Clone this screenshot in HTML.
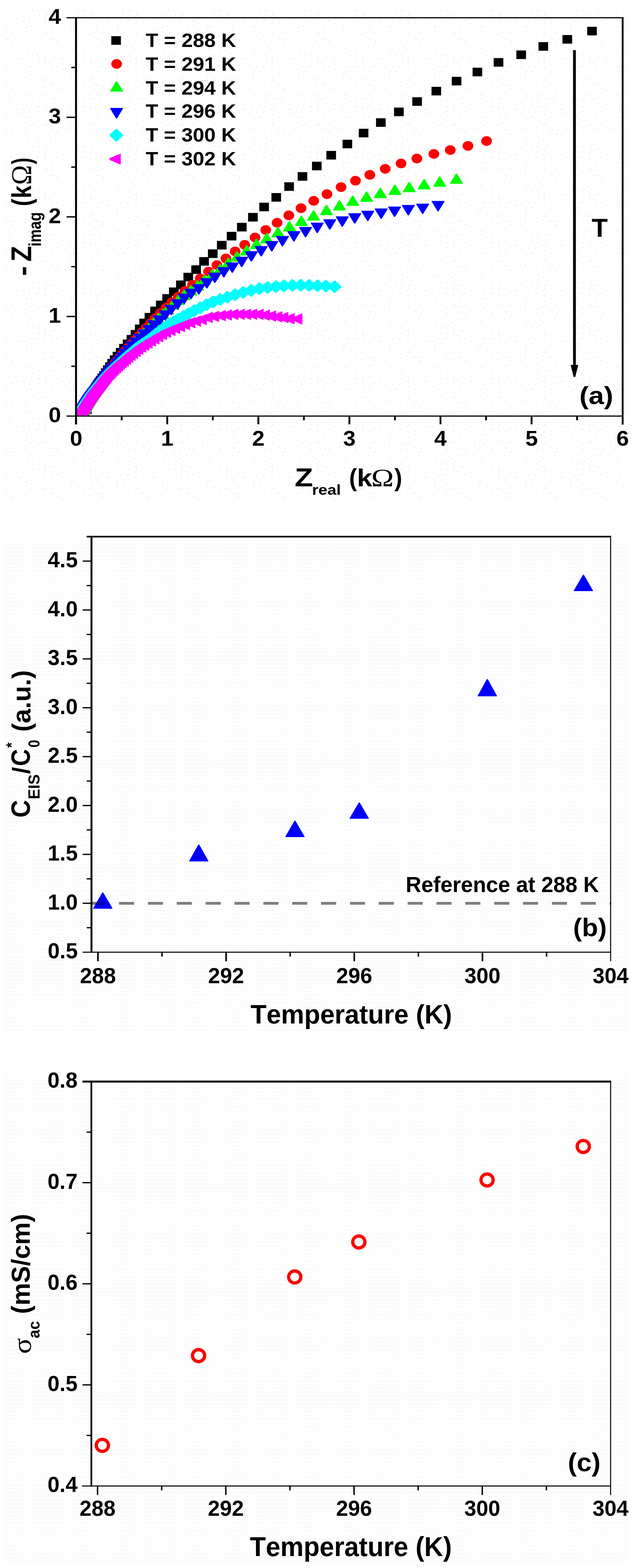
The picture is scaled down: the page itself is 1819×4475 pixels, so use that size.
<!DOCTYPE html>
<html lang="en"><head><meta charset="utf-8"><title>Impedance spectra, capacitance ratio and ac conductivity versus temperature</title>
<style>html,body{margin:0;padding:0;background:#fff}svg{display:block}text{font-family:'Liberation Sans', sans-serif;font-weight:700;fill:#000;font-kerning:none}</style>
</head><body>
<svg width="1819" height="4475" viewBox="0 0 1819 4475" role="img" aria-label="Nyquist plots, normalised capacitance and ac conductivity versus temperature">
<rect x="0" y="0" width="1819" height="4475" fill="#ffffff"/>
<clipPath id="clipA"><rect x="217.1" y="50.6" width="1560.9" height="1136.8"/></clipPath>
<g clip-path="url(#clipA)">
<path d="M234.2 1157.8h27.5v24.5h-27.5zM219.4 1177.5h27.5v24.5h-27.5zM219.8 1176.4h27.5v24.5h-27.5zM220.2 1175.3h27.5v24.5h-27.5zM220.6 1174.1h27.5v24.5h-27.5zM221 1173h27.5v24.5h-27.5zM221.4 1171.9h27.5v24.5h-27.5zM221.8 1170.8h27.5v24.5h-27.5zM222.2 1169.6h27.5v24.5h-27.5zM222.7 1168.5h27.5v24.5h-27.5zM223.1 1167.4h27.5v24.5h-27.5zM223.5 1166.3h27.5v24.5h-27.5zM224 1165.2h27.5v24.5h-27.5zM224.4 1164h27.5v24.5h-27.5zM224.9 1162.9h27.5v24.5h-27.5zM225.4 1161.7h27.5v24.5h-27.5zM225.9 1160.4h27.5v24.5h-27.5zM226.5 1159.1h27.5v24.5h-27.5zM227.1 1157.6h27.5v24.5h-27.5zM227.7 1156h27.5v24.5h-27.5zM228.5 1154.4h27.5v24.5h-27.5zM229.2 1152.6h27.5v24.5h-27.5zM230.1 1150.7h27.5v24.5h-27.5zM231 1148.7h27.5v24.5h-27.5zM232 1146.6h27.5v24.5h-27.5zM233.1 1144.3h27.5v24.5h-27.5zM234.2 1141.9h27.5v24.5h-27.5zM235.5 1139.3h27.5v24.5h-27.5zM236.9 1136.5h27.5v24.5h-27.5zM238.4 1133.6h27.5v24.5h-27.5zM240 1130.5h27.5v24.5h-27.5zM241.8 1127.2h27.5v24.5h-27.5zM243.7 1123.7h27.5v24.5h-27.5zM245.8 1120h27.5v24.5h-27.5zM248 1116h27.5v24.5h-27.5zM250.4 1111.7h27.5v24.5h-27.5zM252.9 1107.1h27.5v24.5h-27.5zM255.5 1102.2h27.5v24.5h-27.5zM258.3 1096.9h27.5v24.5h-27.5zM261.5 1091.4h27.5v24.5h-27.5zM265 1085.6h27.5v24.5h-27.5zM269 1079.6h27.5v24.5h-27.5zM273.4 1073.2h27.5v24.5h-27.5zM278.1 1066.3h27.5v24.5h-27.5zM283.1 1059h27.5v24.5h-27.5zM288.4 1051.2h27.5v24.5h-27.5zM294.1 1042.8h27.5v24.5h-27.5zM300.2 1033.9h27.5v24.5h-27.5zM306.6 1024.3h27.5v24.5h-27.5zM313.7 1014.2h27.5v24.5h-27.5zM321.8 1003.9h27.5v24.5h-27.5zM330.8 993h27.5v24.5h-27.5zM340.3 981.4h27.5v24.5h-27.5zM350.6 969.1h27.5v24.5h-27.5zM361.6 955.9h27.5v24.5h-27.5zM373.3 941.8h27.5v24.5h-27.5zM385.3 926.3h27.5v24.5h-27.5zM397.8 909.5h27.5v24.5h-27.5zM412.9 893h27.5v24.5h-27.5zM429.1 875h27.5v24.5h-27.5zM445.4 857.9h27.5v24.5h-27.5zM463.4 839.5h27.5v24.5h-27.5zM482.6 820.5h27.5v24.5h-27.5zM502.8 800.5h27.5v24.5h-27.5zM523.8 778.4h27.5v24.5h-27.5zM546.2 757.2h27.5v24.5h-27.5zM569 733.8h27.5v24.5h-27.5zM593.8 711.8h27.5v24.5h-27.5zM619.5 687.5h27.5v24.5h-27.5zM647.6 661.8h27.5v24.5h-27.5zM676.8 636h27.5v24.5h-27.5zM708.4 607.8h27.5v24.5h-27.5zM740.4 578.5h27.5v24.5h-27.5zM775.1 550.9h27.5v24.5h-27.5zM811.8 520.2h27.5v24.5h-27.5zM850 491.2h27.5v24.5h-27.5zM890.9 461.4h27.5v24.5h-27.5zM932 430.8h27.5v24.5h-27.5zM978.2 398.8h27.5v24.5h-27.5zM1024.5 367.6h27.5v24.5h-27.5zM1073.8 337.6h27.5v24.5h-27.5zM1125.3 307.1h27.5v24.5h-27.5zM1177.3 277.4h27.5v24.5h-27.5zM1232.2 247.8h27.5v24.5h-27.5zM1290 219.2h27.5v24.5h-27.5zM1349.5 193.3h27.5v24.5h-27.5zM1409.8 165.8h27.5v24.5h-27.5zM1474.5 144.1h27.5v24.5h-27.5zM1537.7 120.2h27.5v24.5h-27.5zM1606.2 100h27.5v24.5h-27.5zM1676.8 76.5h27.5v24.5h-27.5z" fill="#000000"/>
<path d="M216 1189.3a15.2 13.8 0 1 0 30.5 0a15.2 13.8 0 1 0 -30.5 0zM216.4 1188.1a15.2 13.8 0 1 0 30.5 0a15.2 13.8 0 1 0 -30.5 0zM216.8 1187a15.2 13.8 0 1 0 30.5 0a15.2 13.8 0 1 0 -30.5 0zM217.2 1185.9a15.2 13.8 0 1 0 30.5 0a15.2 13.8 0 1 0 -30.5 0zM217.6 1184.7a15.2 13.8 0 1 0 30.5 0a15.2 13.8 0 1 0 -30.5 0zM218 1183.6a15.2 13.8 0 1 0 30.5 0a15.2 13.8 0 1 0 -30.5 0zM218.4 1182.5a15.2 13.8 0 1 0 30.5 0a15.2 13.8 0 1 0 -30.5 0zM218.8 1181.4a15.2 13.8 0 1 0 30.5 0a15.2 13.8 0 1 0 -30.5 0zM219.3 1180.2a15.2 13.8 0 1 0 30.5 0a15.2 13.8 0 1 0 -30.5 0zM219.7 1179.1a15.2 13.8 0 1 0 30.5 0a15.2 13.8 0 1 0 -30.5 0zM220.2 1178a15.2 13.8 0 1 0 30.5 0a15.2 13.8 0 1 0 -30.5 0zM220.6 1176.9a15.2 13.8 0 1 0 30.5 0a15.2 13.8 0 1 0 -30.5 0zM221.1 1175.8a15.2 13.8 0 1 0 30.5 0a15.2 13.8 0 1 0 -30.5 0zM221.5 1174.7a15.2 13.8 0 1 0 30.5 0a15.2 13.8 0 1 0 -30.5 0zM222 1173.6a15.2 13.8 0 1 0 30.5 0a15.2 13.8 0 1 0 -30.5 0zM222.5 1172.5a15.2 13.8 0 1 0 30.5 0a15.2 13.8 0 1 0 -30.5 0zM223 1171.3a15.2 13.8 0 1 0 30.5 0a15.2 13.8 0 1 0 -30.5 0zM223.5 1170.1a15.2 13.8 0 1 0 30.5 0a15.2 13.8 0 1 0 -30.5 0zM224.1 1168.8a15.2 13.8 0 1 0 30.5 0a15.2 13.8 0 1 0 -30.5 0zM224.7 1167.5a15.2 13.8 0 1 0 30.5 0a15.2 13.8 0 1 0 -30.5 0zM225.4 1166.1a15.2 13.8 0 1 0 30.5 0a15.2 13.8 0 1 0 -30.5 0zM226.1 1164.6a15.2 13.8 0 1 0 30.5 0a15.2 13.8 0 1 0 -30.5 0zM226.9 1163a15.2 13.8 0 1 0 30.5 0a15.2 13.8 0 1 0 -30.5 0zM227.8 1161.4a15.2 13.8 0 1 0 30.5 0a15.2 13.8 0 1 0 -30.5 0zM228.7 1159.6a15.2 13.8 0 1 0 30.5 0a15.2 13.8 0 1 0 -30.5 0zM229.7 1157.8a15.2 13.8 0 1 0 30.5 0a15.2 13.8 0 1 0 -30.5 0zM230.7 1155.8a15.2 13.8 0 1 0 30.5 0a15.2 13.8 0 1 0 -30.5 0zM231.9 1153.8a15.2 13.8 0 1 0 30.5 0a15.2 13.8 0 1 0 -30.5 0zM233.1 1151.7a15.2 13.8 0 1 0 30.5 0a15.2 13.8 0 1 0 -30.5 0zM234.4 1149.4a15.2 13.8 0 1 0 30.5 0a15.2 13.8 0 1 0 -30.5 0zM235.7 1147a15.2 13.8 0 1 0 30.5 0a15.2 13.8 0 1 0 -30.5 0zM237.2 1144.5a15.2 13.8 0 1 0 30.5 0a15.2 13.8 0 1 0 -30.5 0zM238.7 1141.8a15.2 13.8 0 1 0 30.5 0a15.2 13.8 0 1 0 -30.5 0zM240.4 1139a15.2 13.8 0 1 0 30.5 0a15.2 13.8 0 1 0 -30.5 0zM242.2 1136.1a15.2 13.8 0 1 0 30.5 0a15.2 13.8 0 1 0 -30.5 0zM244.1 1133a15.2 13.8 0 1 0 30.5 0a15.2 13.8 0 1 0 -30.5 0zM246.2 1129.7a15.2 13.8 0 1 0 30.5 0a15.2 13.8 0 1 0 -30.5 0zM248.4 1126.3a15.2 13.8 0 1 0 30.5 0a15.2 13.8 0 1 0 -30.5 0zM250.7 1122.7a15.2 13.8 0 1 0 30.5 0a15.2 13.8 0 1 0 -30.5 0zM253.2 1118.9a15.2 13.8 0 1 0 30.5 0a15.2 13.8 0 1 0 -30.5 0zM255.8 1114.8a15.2 13.8 0 1 0 30.5 0a15.2 13.8 0 1 0 -30.5 0zM258.6 1110.6a15.2 13.8 0 1 0 30.5 0a15.2 13.8 0 1 0 -30.5 0zM261.6 1106.1a15.2 13.8 0 1 0 30.5 0a15.2 13.8 0 1 0 -30.5 0zM264.8 1101.4a15.2 13.8 0 1 0 30.5 0a15.2 13.8 0 1 0 -30.5 0zM268.1 1096.4a15.2 13.8 0 1 0 30.5 0a15.2 13.8 0 1 0 -30.5 0zM271.7 1091.1a15.2 13.8 0 1 0 30.5 0a15.2 13.8 0 1 0 -30.5 0zM275.5 1085.5a15.2 13.8 0 1 0 30.5 0a15.2 13.8 0 1 0 -30.5 0zM279.6 1079.7a15.2 13.8 0 1 0 30.5 0a15.2 13.8 0 1 0 -30.5 0zM284 1073.6a15.2 13.8 0 1 0 30.5 0a15.2 13.8 0 1 0 -30.5 0zM288.8 1067.3a15.2 13.8 0 1 0 30.5 0a15.2 13.8 0 1 0 -30.5 0zM294 1060.6a15.2 13.8 0 1 0 30.5 0a15.2 13.8 0 1 0 -30.5 0zM299.4 1053.6a15.2 13.8 0 1 0 30.5 0a15.2 13.8 0 1 0 -30.5 0zM305.2 1046.2a15.2 13.8 0 1 0 30.5 0a15.2 13.8 0 1 0 -30.5 0zM311.4 1038.3a15.2 13.8 0 1 0 30.5 0a15.2 13.8 0 1 0 -30.5 0zM317.9 1030.1a15.2 13.8 0 1 0 30.5 0a15.2 13.8 0 1 0 -30.5 0zM324.8 1021.4a15.2 13.8 0 1 0 30.5 0a15.2 13.8 0 1 0 -30.5 0zM332.3 1012.2a15.2 13.8 0 1 0 30.5 0a15.2 13.8 0 1 0 -30.5 0zM340.3 1002.8a15.2 13.8 0 1 0 30.5 0a15.2 13.8 0 1 0 -30.5 0zM349 992.9a15.2 13.8 0 1 0 30.5 0a15.2 13.8 0 1 0 -30.5 0zM358.4 982.6a15.2 13.8 0 1 0 30.5 0a15.2 13.8 0 1 0 -30.5 0zM368.4 971.8a15.2 13.8 0 1 0 30.5 0a15.2 13.8 0 1 0 -30.5 0zM379.1 960.5a15.2 13.8 0 1 0 30.5 0a15.2 13.8 0 1 0 -30.5 0zM390.2 948.3a15.2 13.8 0 1 0 30.5 0a15.2 13.8 0 1 0 -30.5 0zM402 935.5a15.2 13.8 0 1 0 30.5 0a15.2 13.8 0 1 0 -30.5 0zM414.5 922a15.2 13.8 0 1 0 30.5 0a15.2 13.8 0 1 0 -30.5 0zM428.1 908.1a15.2 13.8 0 1 0 30.5 0a15.2 13.8 0 1 0 -30.5 0zM442.7 893.6a15.2 13.8 0 1 0 30.5 0a15.2 13.8 0 1 0 -30.5 0zM458.3 878.5a15.2 13.8 0 1 0 30.5 0a15.2 13.8 0 1 0 -30.5 0zM475.3 862.9a15.2 13.8 0 1 0 30.5 0a15.2 13.8 0 1 0 -30.5 0zM493.6 846.9a15.2 13.8 0 1 0 30.5 0a15.2 13.8 0 1 0 -30.5 0zM513.1 830.1a15.2 13.8 0 1 0 30.5 0a15.2 13.8 0 1 0 -30.5 0zM534.5 812.6a15.2 13.8 0 1 0 30.5 0a15.2 13.8 0 1 0 -30.5 0zM556.6 794.6a15.2 13.8 0 1 0 30.5 0a15.2 13.8 0 1 0 -30.5 0zM580.2 775a15.2 13.8 0 1 0 30.5 0a15.2 13.8 0 1 0 -30.5 0zM604.2 756.5a15.2 13.8 0 1 0 30.5 0a15.2 13.8 0 1 0 -30.5 0zM630 737.6a15.2 13.8 0 1 0 30.5 0a15.2 13.8 0 1 0 -30.5 0zM656.2 717.5a15.2 13.8 0 1 0 30.5 0a15.2 13.8 0 1 0 -30.5 0zM683.5 698.8a15.2 13.8 0 1 0 30.5 0a15.2 13.8 0 1 0 -30.5 0zM713 677.8a15.2 13.8 0 1 0 30.5 0a15.2 13.8 0 1 0 -30.5 0zM743.5 656.3a15.2 13.8 0 1 0 30.5 0a15.2 13.8 0 1 0 -30.5 0zM776 635.7a15.2 13.8 0 1 0 30.5 0a15.2 13.8 0 1 0 -30.5 0zM809.5 614.7a15.2 13.8 0 1 0 30.5 0a15.2 13.8 0 1 0 -30.5 0zM844.4 594.2a15.2 13.8 0 1 0 30.5 0a15.2 13.8 0 1 0 -30.5 0zM880.6 573.2a15.2 13.8 0 1 0 30.5 0a15.2 13.8 0 1 0 -30.5 0zM918.4 554.1a15.2 13.8 0 1 0 30.5 0a15.2 13.8 0 1 0 -30.5 0zM958.6 534a15.2 13.8 0 1 0 30.5 0a15.2 13.8 0 1 0 -30.5 0zM999.8 515.7a15.2 13.8 0 1 0 30.5 0a15.2 13.8 0 1 0 -30.5 0zM1040.8 499a15.2 13.8 0 1 0 30.5 0a15.2 13.8 0 1 0 -30.5 0zM1084.8 481.8a15.2 13.8 0 1 0 30.5 0a15.2 13.8 0 1 0 -30.5 0zM1130 466.5a15.2 13.8 0 1 0 30.5 0a15.2 13.8 0 1 0 -30.5 0zM1175.2 452.4a15.2 13.8 0 1 0 30.5 0a15.2 13.8 0 1 0 -30.5 0zM1223.7 439.3a15.2 13.8 0 1 0 30.5 0a15.2 13.8 0 1 0 -30.5 0zM1270.5 428.3a15.2 13.8 0 1 0 30.5 0a15.2 13.8 0 1 0 -30.5 0zM1321 416.4a15.2 13.8 0 1 0 30.5 0a15.2 13.8 0 1 0 -30.5 0zM1374.2 402.5a15.2 13.8 0 1 0 30.5 0a15.2 13.8 0 1 0 -30.5 0z" fill="#ff0000"/>
<path d="M242.2 1166.2L244.8 1166.2L261.8 1193.8L261.8 1195.8L225.2 1195.8L225.2 1193.8zM229 1174.6L231.7 1174.6L248.6 1202.1L248.6 1204.1L212.1 1204.1L212.1 1202.1zM229.3 1173.4L232 1173.4L248.9 1200.9L248.9 1202.9L212.4 1202.9L212.4 1200.9zM229.7 1172.3L232.4 1172.3L249.3 1199.8L249.3 1201.8L212.8 1201.8L212.8 1199.8zM230.1 1171.1L232.8 1171.1L249.7 1198.6L249.7 1200.6L213.2 1200.6L213.2 1198.6zM230.5 1170L233.2 1170L250.1 1197.5L250.1 1199.5L213.6 1199.5L213.6 1197.5zM231 1168.9L233.7 1168.9L250.6 1196.4L250.6 1198.4L214.1 1198.4L214.1 1196.4zM231.4 1167.8L234.1 1167.8L251 1195.3L251 1197.3L214.5 1197.3L214.5 1195.3zM231.8 1166.6L234.5 1166.6L251.4 1194.1L251.4 1196.1L214.9 1196.1L214.9 1194.1zM232.2 1165.5L234.9 1165.5L251.8 1193L251.8 1195L215.3 1195L215.3 1193zM232.7 1164.4L235.4 1164.4L252.3 1191.9L252.3 1193.9L215.8 1193.9L215.8 1191.9zM233.1 1163.3L235.8 1163.3L252.7 1190.8L252.7 1192.8L216.2 1192.8L216.2 1190.8zM233.6 1162.2L236.3 1162.2L253.2 1189.7L253.2 1191.7L216.7 1191.7L216.7 1189.7zM234.1 1161.1L236.8 1161.1L253.7 1188.6L253.7 1190.6L217.2 1190.6L217.2 1188.6zM234.5 1160L237.2 1160L254.1 1187.5L254.1 1189.5L217.6 1189.5L217.6 1187.5zM235 1158.9L237.7 1158.9L254.6 1186.4L254.6 1188.4L218.1 1188.4L218.1 1186.4zM235.5 1157.8L238.2 1157.8L255.1 1185.3L255.1 1187.3L218.6 1187.3L218.6 1185.3zM236 1156.7L238.7 1156.7L255.6 1184.2L255.6 1186.2L219.1 1186.2L219.1 1184.2zM236.4 1155.6L239.1 1155.6L256 1183.1L256 1185.1L219.5 1185.1L219.5 1183.1zM236.9 1154.5L239.6 1154.5L256.5 1182L256.5 1184L220 1184L220 1182zM237.5 1153.4L240.2 1153.4L257.1 1180.9L257.1 1182.9L220.6 1182.9L220.6 1180.9zM238 1152.2L240.7 1152.2L257.6 1179.7L257.6 1181.7L221.1 1181.7L221.1 1179.7zM238.7 1151L241.4 1151L258.3 1178.5L258.3 1180.5L221.8 1180.5L221.8 1178.5zM239.3 1149.7L242 1149.7L258.9 1177.2L258.9 1179.2L222.4 1179.2L222.4 1177.2zM240 1148.3L242.7 1148.3L259.6 1175.8L259.6 1177.8L223.1 1177.8L223.1 1175.8zM240.8 1146.9L243.5 1146.9L260.4 1174.4L260.4 1176.4L223.9 1176.4L223.9 1174.4zM241.6 1145.4L244.3 1145.4L261.2 1172.9L261.2 1174.9L224.7 1174.9L224.7 1172.9zM242.5 1143.9L245.2 1143.9L262.1 1171.4L262.1 1173.4L225.6 1173.4L225.6 1171.4zM243.4 1142.3L246.1 1142.3L263 1169.8L263 1171.8L226.5 1171.8L226.5 1169.8zM244.4 1140.6L247.1 1140.6L264 1168.1L264 1170.1L227.5 1170.1L227.5 1168.1zM245.5 1138.8L248.2 1138.8L265.1 1166.3L265.1 1168.3L228.6 1168.3L228.6 1166.3zM246.6 1136.9L249.3 1136.9L266.2 1164.4L266.2 1166.4L229.7 1166.4L229.7 1164.4zM247.7 1135L250.4 1135L267.3 1162.5L267.3 1164.5L230.8 1164.5L230.8 1162.5zM248.9 1133L251.6 1133L268.5 1160.5L268.5 1162.5L232 1162.5L232 1160.5zM250.2 1130.9L252.9 1130.9L269.8 1158.4L269.8 1160.4L233.3 1160.4L233.3 1158.4zM251.6 1128.6L254.3 1128.6L271.2 1156.1L271.2 1158.1L234.7 1158.1L234.7 1156.1zM253 1126.3L255.7 1126.3L272.6 1153.8L272.6 1155.8L236.1 1155.8L236.1 1153.8zM254.6 1123.9L257.3 1123.9L274.2 1151.4L274.2 1153.4L237.7 1153.4L237.7 1151.4zM256.2 1121.4L258.9 1121.4L275.8 1148.9L275.8 1150.9L239.3 1150.9L239.3 1148.9zM257.9 1118.7L260.6 1118.7L277.5 1146.2L277.5 1148.2L241 1148.2L241 1146.2zM259.7 1115.9L262.4 1115.9L279.3 1143.4L279.3 1145.4L242.8 1145.4L242.8 1143.4zM261.7 1113L264.4 1113L281.3 1140.5L281.3 1142.5L244.8 1142.5L244.8 1140.5zM263.7 1110L266.4 1110L283.3 1137.5L283.3 1139.5L246.8 1139.5L246.8 1137.5zM265.9 1106.8L268.6 1106.8L285.5 1134.3L285.5 1136.3L249 1136.3L249 1134.3zM268.2 1103.5L270.9 1103.5L287.8 1131L287.8 1133L251.3 1133L251.3 1131zM270.6 1100.1L273.3 1100.1L290.2 1127.6L290.2 1129.6L253.7 1129.6L253.7 1127.6zM273.2 1096.4L275.9 1096.4L292.8 1123.9L292.8 1125.9L256.3 1125.9L256.3 1123.9zM275.9 1092.7L278.6 1092.7L295.5 1120.2L295.5 1122.2L259 1122.2L259 1120.2zM278.7 1088.7L281.4 1088.7L298.3 1116.2L298.3 1118.2L261.8 1118.2L261.8 1116.2zM281.7 1084.5L284.4 1084.5L301.3 1112L301.3 1114L264.8 1114L264.8 1112zM284.7 1080.1L287.4 1080.1L304.3 1107.6L304.3 1109.6L267.8 1109.6L267.8 1107.6zM287.9 1075.4L290.6 1075.4L307.5 1102.9L307.5 1104.9L271 1104.9L271 1102.9zM291.3 1070.5L294 1070.5L310.9 1098L310.9 1100L274.4 1100L274.4 1098zM294.8 1065.4L297.5 1065.4L314.4 1092.9L314.4 1094.9L277.9 1094.9L277.9 1092.9zM298.7 1060.1L301.4 1060.1L318.3 1087.6L318.3 1089.6L281.8 1089.6L281.8 1087.6zM302.9 1054.7L305.6 1054.7L322.5 1082.2L322.5 1084.2L286 1084.2L286 1082.2zM307.4 1049.1L310.1 1049.1L327 1076.6L327 1078.6L290.5 1078.6L290.5 1076.6zM312.3 1043.3L315 1043.3L331.9 1070.8L331.9 1072.8L295.4 1072.8L295.4 1070.8zM317.3 1037.2L320 1037.2L336.9 1064.7L336.9 1066.7L300.4 1066.7L300.4 1064.7zM322.6 1030.8L325.3 1030.8L342.2 1058.3L342.2 1060.3L305.7 1060.3L305.7 1058.3zM328.2 1024.1L330.9 1024.1L347.8 1051.6L347.8 1053.6L311.3 1053.6L311.3 1051.6zM334 1017L336.7 1017L353.6 1044.5L353.6 1046.5L317.1 1046.5L317.1 1044.5zM340.1 1009.6L342.8 1009.6L359.7 1037.1L359.7 1039.1L323.2 1039.1L323.2 1037.1zM346.5 1001.7L349.2 1001.7L366.1 1029.2L366.1 1031.2L329.6 1031.2L329.6 1029.2zM353.3 993.6L356 993.6L372.9 1021.1L372.9 1023.1L336.4 1023.1L336.4 1021.1zM360.6 985.3L363.3 985.3L380.2 1012.8L380.2 1014.8L343.7 1014.8L343.7 1012.8zM368.5 976.7L371.2 976.7L388.1 1004.2L388.1 1006.2L351.6 1006.2L351.6 1004.2zM376.9 967.7L379.6 967.7L396.5 995.2L396.5 997.2L360 997.2L360 995.2zM385.9 958.5L388.6 958.5L405.5 986L405.5 988L369 988L369 986zM395.4 949L398.1 949L415 976.5L415 978.5L378.5 978.5L378.5 976.5zM405.3 938.8L408 938.8L424.9 966.3L424.9 968.3L388.4 968.3L388.4 966.3zM415.6 928.2L418.3 928.2L435.2 955.7L435.2 957.7L398.7 957.7L398.7 955.7zM426.6 917.1L429.3 917.1L446.2 944.6L446.2 946.6L409.7 946.6L409.7 944.6zM438.2 905.6L440.9 905.6L457.8 933.1L457.8 935.1L421.3 935.1L421.3 933.1zM450.5 893.5L453.2 893.5L470.1 921L470.1 923L433.6 923L433.6 921zM463.5 881L466.2 881L483.1 908.5L483.1 910.5L446.6 910.5L446.6 908.5zM477.3 868.1L480 868.1L496.9 895.6L496.9 897.6L460.4 897.6L460.4 895.6zM492.1 854.8L494.8 854.8L511.7 882.3L511.7 884.3L475.2 884.3L475.2 882.3zM507.7 840.9L510.4 840.9L527.3 868.4L527.3 870.4L490.8 870.4L490.8 868.4zM524.6 827L527.3 827L544.2 854.5L544.2 856.5L507.7 856.5L507.7 854.5zM543.4 813.9L546.1 813.9L563 841.4L563 843.4L526.5 843.4L526.5 841.4zM562.9 799.7L565.6 799.7L582.5 827.2L582.5 829.2L546 829.2L546 827.2zM582.5 783.8L585.2 783.8L602.1 811.3L602.1 813.3L565.6 813.3L565.6 811.3zM604.4 768.7L607.1 768.7L624 796.2L624 798.2L587.5 798.2L587.5 796.2zM627.3 752.8L630 752.8L646.9 780.3L646.9 782.3L610.4 782.3L610.4 780.3zM650.5 735L653.2 735L670.1 762.5L670.1 764.5L633.6 764.5L633.6 762.5zM675.4 717L678.1 717L695 744.5L695 746.5L658.5 746.5L658.5 744.5zM703 699.2L705.8 699.2L722.6 726.8L722.6 728.8L686.1 728.8L686.1 726.8zM731.2 681.1L734 681.1L750.9 708.6L750.9 710.6L714.4 710.6L714.4 708.6zM760.4 664.9L763.1 664.9L780 692.4L780 694.4L743.5 694.4L743.5 692.4zM792.4 647.6L795.1 647.6L812 675.1L812 677.1L775.5 677.1L775.5 675.1zM825.2 631L828 631L844.9 658.5L844.9 660.5L808.4 660.5L808.4 658.5zM859.2 615.6L862 615.6L878.9 643.1L878.9 645.1L842.4 645.1L842.4 643.1zM894 600L896.8 600L913.6 627.5L913.6 629.5L877.1 629.5L877.1 627.5zM930.9 584.6L933.6 584.6L950.5 612.1L950.5 614.1L914 614.1L914 612.1zM967.9 571.2L970.6 571.2L987.5 598.8L987.5 600.8L951 600.8L951 598.8zM1005.9 558L1008.6 558L1025.5 585.5L1025.5 587.5L989 587.5L989 585.5zM1045.6 546.5L1048.2 546.5L1065.2 574L1065.2 576L1028.7 576L1028.7 574zM1084.8 535.8L1087.4 535.8L1104.3 563.2L1104.3 565.2L1067.8 565.2L1067.8 563.2zM1126.4 527L1129 527L1146 554.5L1146 556.5L1109.5 556.5L1109.5 554.5zM1167.4 518.9L1170 518.9L1187 546.4L1187 548.4L1150.5 548.4L1150.5 546.4zM1209.9 511L1212.5 511L1229.5 538.5L1229.5 540.5L1193 540.5L1193 538.5zM1254.2 503.5L1256.9 503.5L1273.8 531L1273.8 533L1237.3 533L1237.3 531zM1302.1 494.9L1304.8 494.9L1321.7 522.5L1321.7 524.5L1285.2 524.5L1285.2 522.5z" fill="#00ff00"/>
<path d="M210.7 1174.9L247.2 1174.9L247.2 1176.9L230.3 1204.4L227.6 1204.4L210.7 1176.9zM211 1173.8L247.5 1173.8L247.5 1175.8L230.6 1203.3L227.9 1203.3L211 1175.8zM211.4 1172.6L247.9 1172.6L247.9 1174.6L231 1202.1L228.3 1202.1L211.4 1174.6zM211.7 1171.5L248.2 1171.5L248.2 1173.5L231.3 1201L228.6 1201L211.7 1173.5zM212.1 1170.4L248.6 1170.4L248.6 1172.4L231.7 1199.9L229 1199.9L212.1 1172.4zM212.5 1169.2L249 1169.2L249 1171.2L232.1 1198.7L229.4 1198.7L212.5 1171.2zM212.9 1168.1L249.4 1168.1L249.4 1170.1L232.5 1197.6L229.8 1197.6L212.9 1170.1zM213.3 1167L249.8 1167L249.8 1169L232.9 1196.5L230.2 1196.5L213.3 1169zM213.7 1165.8L250.2 1165.8L250.2 1167.8L233.3 1195.3L230.6 1195.3L213.7 1167.8zM214.2 1164.7L250.7 1164.7L250.7 1166.7L233.8 1194.2L231.1 1194.2L214.2 1166.7zM214.6 1163.6L251.1 1163.6L251.1 1165.6L234.2 1193.1L231.5 1193.1L214.6 1165.6zM215 1162.5L251.5 1162.5L251.5 1164.5L234.6 1192L231.9 1192L215 1164.5zM215.5 1161.4L252 1161.4L252 1163.4L235.1 1190.9L232.4 1190.9L215.5 1163.4zM216 1160.4L252.5 1160.4L252.5 1162.4L235.6 1189.9L232.9 1189.9L216 1162.4zM216.5 1159.3L253 1159.3L253 1161.3L236.1 1188.8L233.4 1188.8L216.5 1161.3zM217.1 1158.2L253.6 1158.2L253.6 1160.2L236.7 1187.7L234 1187.7L217.1 1160.2zM217.7 1157L254.2 1157L254.2 1159L237.3 1186.5L234.6 1186.5L217.7 1159zM218.3 1155.8L254.8 1155.8L254.8 1157.8L237.9 1185.3L235.2 1185.3L218.3 1157.8zM219 1154.5L255.5 1154.5L255.5 1156.5L238.6 1184L235.9 1184L219 1156.5zM219.7 1153.1L256.2 1153.1L256.2 1155.1L239.3 1182.6L236.6 1182.6L219.7 1155.1zM220.6 1151.7L257.1 1151.7L257.1 1153.7L240.2 1181.2L237.5 1181.2L220.6 1153.7zM221.4 1150.2L257.9 1150.2L257.9 1152.2L241 1179.7L238.3 1179.7L221.4 1152.2zM222.4 1148.6L258.9 1148.6L258.9 1150.6L242 1178.1L239.3 1178.1L222.4 1150.6zM223.3 1146.9L259.8 1146.9L259.8 1148.9L242.9 1176.4L240.2 1176.4L223.3 1148.9zM224.4 1145.1L260.9 1145.1L260.9 1147.1L244 1174.6L241.3 1174.6L224.4 1147.1zM225.5 1143.2L262 1143.2L262 1145.2L245.1 1172.7L242.4 1172.7L225.5 1145.2zM226.7 1141.1L263.2 1141.1L263.2 1143.1L246.3 1170.6L243.6 1170.6L226.7 1143.1zM228 1139L264.5 1139L264.5 1141L247.6 1168.5L244.9 1168.5L228 1141zM229.3 1136.8L265.8 1136.8L265.8 1138.8L248.9 1166.3L246.2 1166.3L229.3 1138.8zM230.8 1134.4L267.3 1134.4L267.3 1136.4L250.4 1163.9L247.7 1163.9L230.8 1136.4zM232.4 1131.9L268.9 1131.9L268.9 1133.9L252 1161.4L249.3 1161.4L232.4 1133.9zM234.1 1129.2L270.6 1129.2L270.6 1131.2L253.7 1158.7L251 1158.7L234.1 1131.2zM235.9 1126.4L272.4 1126.4L272.4 1128.4L255.5 1155.9L252.8 1155.9L235.9 1128.4zM237.9 1123.5L274.4 1123.5L274.4 1125.5L257.5 1153L254.8 1153L237.9 1125.5zM240 1120.4L276.5 1120.4L276.5 1122.4L259.6 1149.9L256.9 1149.9L240 1122.4zM242.3 1117.1L278.8 1117.1L278.8 1119.1L261.9 1146.6L259.2 1146.6L242.3 1119.1zM244.7 1113.7L281.2 1113.7L281.2 1115.7L264.3 1143.2L261.6 1143.2L244.7 1115.7zM247.3 1110L283.8 1110L283.8 1112L266.9 1139.5L264.2 1139.5L247.3 1112zM250.1 1106.2L286.6 1106.2L286.6 1108.2L269.7 1135.7L267 1135.7L250.1 1108.2zM253.2 1102.2L289.7 1102.2L289.7 1104.2L272.8 1131.7L270.1 1131.7L253.2 1104.2zM256.5 1098L293 1098L293 1100L276.1 1127.5L273.4 1127.5L256.5 1100zM260 1093.5L296.5 1093.5L296.5 1095.5L279.6 1123L276.9 1123L260 1095.5zM263.6 1088.8L300.1 1088.8L300.1 1090.8L283.2 1118.3L280.5 1118.3L263.6 1090.8zM267.4 1083.6L303.9 1083.6L303.9 1085.6L287 1113.1L284.3 1113.1L267.4 1085.6zM271.3 1078.1L307.8 1078.1L307.8 1080.1L290.9 1107.6L288.2 1107.6L271.3 1080.1zM275.4 1072.2L311.9 1072.2L311.9 1074.2L295 1101.7L292.3 1101.7L275.4 1074.2zM279.8 1066L316.3 1066L316.3 1068L299.4 1095.5L296.7 1095.5L279.8 1068zM284.5 1059.4L321 1059.4L321 1061.4L304.1 1088.9L301.4 1088.9L284.5 1061.4zM289.8 1052.8L326.3 1052.8L326.3 1054.8L309.4 1082.3L306.7 1082.3L289.8 1054.8zM295.7 1045.9L332.2 1045.9L332.2 1047.9L315.3 1075.4L312.6 1075.4L295.7 1047.9zM302.3 1038.8L338.8 1038.8L338.8 1040.8L321.9 1068.3L319.2 1068.3L302.3 1040.8zM309.3 1031.4L345.8 1031.4L345.8 1033.4L328.9 1060.9L326.2 1060.9L309.3 1033.4zM316.5 1023.3L353 1023.3L353 1025.3L336.1 1052.8L333.4 1052.8L316.5 1025.3zM323.9 1014.5L360.4 1014.5L360.4 1016.5L343.5 1044L340.8 1044L323.9 1016.5zM331.7 1005.1L368.2 1005.1L368.2 1007.1L351.3 1034.6L348.6 1034.6L331.7 1007.1zM340 995.2L376.5 995.2L376.5 997.2L359.6 1024.7L356.9 1024.7L340 997.2zM349 984.9L385.5 984.9L385.5 986.9L368.6 1014.4L365.9 1014.4L349 986.9zM359.1 974.5L395.6 974.5L395.6 976.5L378.7 1004L376 1004L359.1 976.5zM370 963.6L406.5 963.6L406.5 965.6L389.6 993.1L386.9 993.1L370 965.6zM381.8 952.2L418.3 952.2L418.3 954.2L401.4 981.7L398.7 981.7L381.8 954.2zM394.4 940.3L430.9 940.3L430.9 942.3L414 969.8L411.3 969.8L394.4 942.3zM407.8 927.6L444.3 927.6L444.3 929.6L427.4 957.1L424.7 957.1L407.8 929.6zM422 914.3L458.5 914.3L458.5 916.3L441.6 943.8L438.9 943.8L422 916.3zM437.2 900.2L473.7 900.2L473.7 902.2L456.8 929.7L454.1 929.7L437.2 902.2zM453.4 885.5L489.9 885.5L489.9 887.5L473.1 915L470.3 915L453.4 887.5zM470.6 869.8L507.1 869.8L507.1 871.8L490.2 899.2L487.5 899.2L470.6 871.8zM489.2 854L525.8 854L525.8 856L508.9 883.5L506.1 883.5L489.2 856zM507.9 838.2L544.4 838.2L544.4 840.2L527.5 867.8L524.8 867.8L507.9 840.2zM527.4 823.9L563.9 823.9L563.9 825.9L547 853.4L544.2 853.4L527.4 825.9zM549.5 811L586 811L586 813L569.1 840.5L566.4 840.5L549.5 813zM572.4 793.8L608.9 793.8L608.9 795.8L592 823.2L589.2 823.2L572.4 795.8zM595.2 778L631.8 778L631.8 780L614.9 807.5L612.1 807.5L595.2 780zM621 762.2L657.5 762.2L657.5 764.2L640.6 791.8L637.9 791.8L621 764.2zM645 749L681.5 749L681.5 751L664.6 778.5L661.9 778.5L645 751zM671.9 732.8L708.4 732.8L708.4 734.8L691.5 762.2L688.8 762.2L671.9 734.8zM699.5 717L736 717L736 719L719.1 746.5L716.4 746.5L699.5 719zM727.6 702.2L764.1 702.2L764.1 704.2L747.2 731.8L744.5 731.8L727.6 704.2zM757.8 687.9L794.2 687.9L794.2 689.9L777.4 717.4L774.6 717.4L757.8 689.9zM788.4 673.5L824.9 673.5L824.9 675.5L808 703L805.2 703L788.4 675.5zM820.9 659.8L857.4 659.8L857.4 661.8L840.5 689.2L837.8 689.2L820.9 661.8zM854.2 647.8L890.8 647.8L890.8 649.8L873.9 677.2L871.1 677.2L854.2 649.8zM887.6 635.4L924.1 635.4L924.1 637.4L907.2 664.9L904.5 664.9L887.6 637.4zM923.5 625.8L960 625.8L960 627.8L943.1 655.2L940.4 655.2L923.5 627.8zM959.1 617.5L995.6 617.5L995.6 619.5L978.8 647L976 647L959.1 619.5zM994.8 608.6L1031.2 608.6L1031.2 610.6L1014.4 638.1L1011.6 638.1L994.8 610.6zM1032 601.5L1068.5 601.5L1068.5 603.5L1051.6 631L1049 631L1032 603.5zM1070.2 594.9L1106.8 594.9L1106.8 596.9L1089.8 624.4L1087.2 624.4L1070.2 596.9zM1108.5 589.5L1145 589.5L1145 591.5L1128 619L1125.4 619L1108.5 591.5zM1147.7 584.9L1184.2 584.9L1184.2 586.9L1167.2 614.4L1164.6 614.4L1147.7 586.9zM1188.7 581.2L1225.2 581.2L1225.2 583.2L1208.2 610.8L1205.6 610.8L1188.7 583.2zM1232.7 573.4L1269.2 573.4L1269.2 575.4L1252.2 602.9L1249.6 602.9L1232.7 575.4z" fill="#0000ff"/>
<path d="M224.3 1172.5L228.3 1172.5L245.1 1188L245.1 1192L228.3 1207.5L224.3 1207.5L207.6 1192L207.6 1188zM224.7 1171.4L228.7 1171.4L245.4 1186.9L245.4 1190.9L228.7 1206.4L224.7 1206.4L207.9 1190.9L207.9 1186.9zM225 1170.2L229 1170.2L245.8 1185.7L245.8 1189.7L229 1205.2L225 1205.2L208.3 1189.7L208.3 1185.7zM225.4 1169.1L229.4 1169.1L246.1 1184.6L246.1 1188.6L229.4 1204.1L225.4 1204.1L208.6 1188.6L208.6 1184.6zM225.7 1167.9L229.7 1167.9L246.5 1183.4L246.5 1187.4L229.7 1202.9L225.7 1202.9L209 1187.4L209 1183.4zM226.1 1166.8L230.1 1166.8L246.9 1182.3L246.9 1186.3L230.1 1201.8L226.1 1201.8L209.4 1186.3L209.4 1182.3zM226.5 1165.6L230.5 1165.6L247.3 1181.1L247.3 1185.1L230.5 1200.6L226.5 1200.6L209.8 1185.1L209.8 1181.1zM226.9 1164.5L230.9 1164.5L247.7 1180L247.7 1184L230.9 1199.5L226.9 1199.5L210.2 1184L210.2 1180zM227.4 1163.4L231.4 1163.4L248.1 1178.9L248.1 1182.9L231.4 1198.4L227.4 1198.4L210.6 1182.9L210.6 1178.9zM227.8 1162.3L231.8 1162.3L248.5 1177.8L248.5 1181.8L231.8 1197.3L227.8 1197.3L211 1181.8L211 1177.8zM228.2 1161.2L232.2 1161.2L249 1176.7L249 1180.7L232.2 1196.2L228.2 1196.2L211.5 1180.7L211.5 1176.7zM228.7 1160.1L232.7 1160.1L249.4 1175.6L249.4 1179.6L232.7 1195.1L228.7 1195.1L211.9 1179.6L211.9 1175.6zM229.1 1159L233.1 1159L249.9 1174.5L249.9 1178.5L233.1 1194L229.1 1194L212.4 1178.5L212.4 1174.5zM229.6 1157.9L233.6 1157.9L250.4 1173.4L250.4 1177.4L233.6 1192.9L229.6 1192.9L212.9 1177.4L212.9 1173.4zM230.1 1156.8L234.1 1156.8L250.9 1172.3L250.9 1176.3L234.1 1191.8L230.1 1191.8L213.4 1176.3L213.4 1172.3zM230.7 1155.7L234.7 1155.7L251.4 1171.2L251.4 1175.2L234.7 1190.7L230.7 1190.7L213.9 1175.2L213.9 1171.2zM231.2 1154.7L235.2 1154.7L251.9 1170.2L251.9 1174.2L235.2 1189.7L231.2 1189.7L214.4 1174.2L214.4 1170.2zM231.8 1153.6L235.8 1153.6L252.5 1169.1L252.5 1173.1L235.8 1188.6L231.8 1188.6L215 1173.1L215 1169.1zM232.3 1152.5L236.3 1152.5L253.1 1168L253.1 1172L236.3 1187.5L232.3 1187.5L215.6 1172L215.6 1168zM232.9 1151.5L236.9 1151.5L253.6 1167L253.6 1171L236.9 1186.5L232.9 1186.5L216.1 1171L216.1 1167zM233.5 1150.4L237.5 1150.4L254.2 1165.9L254.2 1169.9L237.5 1185.4L233.5 1185.4L216.7 1169.9L216.7 1165.9zM234.1 1149.4L238.1 1149.4L254.8 1164.9L254.8 1168.9L238.1 1184.4L234.1 1184.4L217.3 1168.9L217.3 1164.9zM234.7 1148.3L238.7 1148.3L255.4 1163.8L255.4 1167.8L238.7 1183.3L234.7 1183.3L217.9 1167.8L217.9 1163.8zM235.3 1147.3L239.3 1147.3L256 1162.8L256 1166.8L239.3 1182.3L235.3 1182.3L218.5 1166.8L218.5 1162.8zM235.9 1146.2L239.9 1146.2L256.7 1161.7L256.7 1165.7L239.9 1181.2L235.9 1181.2L219.2 1165.7L219.2 1161.7zM236.6 1145L240.6 1145L257.3 1160.5L257.3 1164.5L240.6 1180L236.6 1180L219.8 1164.5L219.8 1160.5zM237.3 1143.8L241.3 1143.8L258 1159.3L258 1163.3L241.3 1178.8L237.3 1178.8L220.5 1163.3L220.5 1159.3zM238 1142.6L242 1142.6L258.7 1158.1L258.7 1162.1L242 1177.6L238 1177.6L221.2 1162.1L221.2 1158.1zM238.7 1141.3L242.7 1141.3L259.5 1156.8L259.5 1160.8L242.7 1176.3L238.7 1176.3L222 1160.8L222 1156.8zM239.5 1140L243.5 1140L260.2 1155.5L260.2 1159.5L243.5 1175L239.5 1175L222.7 1159.5L222.7 1155.5zM240.3 1138.6L244.3 1138.6L261.1 1154.1L261.1 1158.1L244.3 1173.6L240.3 1173.6L223.6 1158.1L223.6 1154.1zM241.2 1137.2L245.2 1137.2L261.9 1152.7L261.9 1156.7L245.2 1172.2L241.2 1172.2L224.4 1156.7L224.4 1152.7zM242.1 1135.7L246.1 1135.7L262.8 1151.2L262.8 1155.2L246.1 1170.7L242.1 1170.7L225.3 1155.2L225.3 1151.2zM243 1134.1L247 1134.1L263.8 1149.6L263.8 1153.6L247 1169.1L243 1169.1L226.3 1153.6L226.3 1149.6zM244 1132.5L248 1132.5L264.8 1148L264.8 1152L248 1167.5L244 1167.5L227.3 1152L227.3 1148zM245.1 1130.8L249.1 1130.8L265.8 1146.3L265.8 1150.3L249.1 1165.8L245.1 1165.8L228.3 1150.3L228.3 1146.3zM246.2 1129.1L250.2 1129.1L266.9 1144.6L266.9 1148.6L250.2 1164.1L246.2 1164.1L229.4 1148.6L229.4 1144.6zM247.3 1127.3L251.3 1127.3L268.1 1142.8L268.1 1146.8L251.3 1162.3L247.3 1162.3L230.6 1146.8L230.6 1142.8zM248.6 1125.4L252.6 1125.4L269.3 1140.9L269.3 1144.9L252.6 1160.4L248.6 1160.4L231.8 1144.9L231.8 1140.9zM249.8 1123.5L253.8 1123.5L270.6 1139L270.6 1143L253.8 1158.5L249.8 1158.5L233.1 1143L233.1 1139zM251.2 1121.5L255.2 1121.5L271.9 1137L271.9 1141L255.2 1156.5L251.2 1156.5L234.4 1141L234.4 1137zM252.6 1119.4L256.6 1119.4L273.3 1134.9L273.3 1138.9L256.6 1154.4L252.6 1154.4L235.8 1138.9L235.8 1134.9zM254 1117.2L258 1117.2L274.8 1132.7L274.8 1136.7L258 1152.2L254 1152.2L237.3 1136.7L237.3 1132.7zM255.6 1115L259.6 1115L276.3 1130.5L276.3 1134.5L259.6 1150L255.6 1150L238.8 1134.5L238.8 1130.5zM257.2 1112.7L261.2 1112.7L277.9 1128.2L277.9 1132.2L261.2 1147.7L257.2 1147.7L240.4 1132.2L240.4 1128.2zM258.9 1110.3L262.9 1110.3L279.6 1125.8L279.6 1129.8L262.9 1145.3L258.9 1145.3L242.1 1129.8L242.1 1125.8zM260.7 1107.8L264.7 1107.8L281.4 1123.3L281.4 1127.3L264.7 1142.8L260.7 1142.8L243.9 1127.3L243.9 1123.3zM262.5 1105.2L266.5 1105.2L283.3 1120.7L283.3 1124.7L266.5 1140.2L262.5 1140.2L245.8 1124.7L245.8 1120.7zM264.5 1102.5L268.5 1102.5L285.3 1118L285.3 1122L268.5 1137.5L264.5 1137.5L247.8 1122L247.8 1118zM266.6 1099.7L270.6 1099.7L287.3 1115.2L287.3 1119.2L270.6 1134.7L266.6 1134.7L249.8 1119.2L249.8 1115.2zM268.8 1096.8L272.8 1096.8L289.5 1112.3L289.5 1116.3L272.8 1131.8L268.8 1131.8L252 1116.3L252 1112.3zM271.1 1093.9L275.1 1093.9L291.8 1109.4L291.8 1113.4L275.1 1128.9L271.1 1128.9L254.3 1113.4L254.3 1109.4zM273.5 1090.8L277.5 1090.8L294.2 1106.3L294.2 1110.3L277.5 1125.8L273.5 1125.8L256.7 1110.3L256.7 1106.3zM276 1087.6L280 1087.6L296.7 1103.1L296.7 1107.1L280 1122.6L276 1122.6L259.2 1107.1L259.2 1103.1zM278.6 1084.2L282.6 1084.2L299.4 1099.7L299.4 1103.7L282.6 1119.2L278.6 1119.2L261.9 1103.7L261.9 1099.7zM281.4 1080.8L285.4 1080.8L302.1 1096.3L302.1 1100.3L285.4 1115.8L281.4 1115.8L264.6 1100.3L264.6 1096.3zM284.2 1077.2L288.2 1077.2L305 1092.7L305 1096.7L288.2 1112.2L284.2 1112.2L267.5 1096.7L267.5 1092.7zM287.2 1073.4L291.2 1073.4L308 1088.9L308 1092.9L291.2 1108.4L287.2 1108.4L270.5 1092.9L270.5 1088.9zM290.4 1069.6L294.4 1069.6L311.1 1085.1L311.1 1089.1L294.4 1104.6L290.4 1104.6L273.6 1089.1L273.6 1085.1zM293.7 1065.5L297.7 1065.5L314.4 1081L314.4 1085L297.7 1100.5L293.7 1100.5L276.9 1085L276.9 1081zM297.2 1061.4L301.2 1061.4L317.9 1076.9L317.9 1080.9L301.2 1096.4L297.2 1096.4L280.4 1080.9L280.4 1076.9zM300.8 1057.2L304.8 1057.2L321.6 1072.7L321.6 1076.7L304.8 1092.2L300.8 1092.2L284.1 1076.7L284.1 1072.7zM304.7 1052.8L308.7 1052.8L325.5 1068.3L325.5 1072.3L308.7 1087.8L304.7 1087.8L288 1072.3L288 1068.3zM308.9 1048.3L312.9 1048.3L329.6 1063.8L329.6 1067.8L312.9 1083.3L308.9 1083.3L292.1 1067.8L292.1 1063.8zM313.3 1043.8L317.3 1043.8L334 1059.3L334 1063.3L317.3 1078.8L313.3 1078.8L296.5 1063.3L296.5 1059.3zM317.9 1039L321.9 1039L338.7 1054.5L338.7 1058.5L321.9 1074L317.9 1074L301.2 1058.5L301.2 1054.5zM322.8 1034.2L326.8 1034.2L343.6 1049.7L343.6 1053.7L326.8 1069.2L322.8 1069.2L306.1 1053.7L306.1 1049.7zM328 1029.2L332 1029.2L348.8 1044.7L348.8 1048.7L332 1064.2L328 1064.2L311.3 1048.7L311.3 1044.7zM333.4 1024.1L337.4 1024.1L354.2 1039.6L354.2 1043.6L337.4 1059.1L333.4 1059.1L316.7 1043.6L316.7 1039.6zM339.1 1018.8L343.1 1018.8L359.9 1034.3L359.9 1038.3L343.1 1053.8L339.1 1053.8L322.4 1038.3L322.4 1034.3zM345.1 1013.4L349.1 1013.4L365.9 1028.9L365.9 1032.9L349.1 1048.4L345.1 1048.4L328.4 1032.9L328.4 1028.9zM351.5 1007.8L355.5 1007.8L372.2 1023.3L372.2 1027.3L355.5 1042.8L351.5 1042.8L334.7 1027.3L334.7 1023.3zM358.1 1002.1L362.1 1002.1L378.8 1017.6L378.8 1021.6L362.1 1037.1L358.1 1037.1L341.3 1021.6L341.3 1017.6zM364.9 996L368.9 996L385.7 1011.5L385.7 1015.5L368.9 1031L364.9 1031L348.2 1015.5L348.2 1011.5zM372.1 989.7L376.1 989.7L392.8 1005.2L392.8 1009.2L376.1 1024.7L372.1 1024.7L355.3 1009.2L355.3 1005.2zM379.6 983.3L383.6 983.3L400.4 998.8L400.4 1002.8L383.6 1018.3L379.6 1018.3L362.9 1002.8L362.9 998.8zM387.6 976.8L391.6 976.8L408.3 992.3L408.3 996.3L391.6 1011.8L387.6 1011.8L370.8 996.3L370.8 992.3zM396.2 970.5L400.2 970.5L417 986L417 990L400.2 1005.5L396.2 1005.5L379.5 990L379.5 986zM405.5 964.2L409.5 964.2L426.3 979.7L426.3 983.7L409.5 999.2L405.5 999.2L388.8 983.7L388.8 979.7zM415.2 957.7L419.2 957.7L435.9 973.2L435.9 977.2L419.2 992.7L415.2 992.7L398.4 977.2L398.4 973.2zM424.9 950.5L428.9 950.5L445.7 966L445.7 970L428.9 985.5L424.9 985.5L408.2 970L408.2 966zM434.8 942.7L438.8 942.7L455.6 958.2L455.6 962.2L438.8 977.7L434.8 977.7L418.1 962.2L418.1 958.2zM445.1 934.5L449.1 934.5L465.8 950L465.8 954L449.1 969.5L445.1 969.5L428.3 954L428.3 950zM456 926.2L460 926.2L476.7 941.7L476.7 945.7L460 961.2L456 961.2L439.2 945.7L439.2 941.7zM467.4 917.7L471.4 917.7L488.2 933.2L488.2 937.2L471.4 952.7L467.4 952.7L450.7 937.2L450.7 933.2zM479.7 909.4L483.7 909.4L500.4 924.9L500.4 928.9L483.7 944.4L479.7 944.4L462.9 928.9L462.9 924.9zM492.8 901.4L496.8 901.4L513.6 916.9L513.6 920.9L496.8 936.4L492.8 936.4L476.1 920.9L476.1 916.9zM506.9 893.5L510.9 893.5L527.6 909L527.6 913L510.9 928.5L506.9 928.5L490.1 913L490.1 909zM521.6 885.6L525.6 885.6L542.3 901.1L542.3 905.1L525.6 920.6L521.6 920.6L504.8 905.1L504.8 901.1zM537 877.4L541 877.4L557.7 892.9L557.7 896.9L541 912.4L537 912.4L520.2 896.9L520.2 892.9zM553.1 869.1L557.1 869.1L573.8 884.6L573.8 888.6L557.1 904.1L553.1 904.1L536.3 888.6L536.3 884.6zM570 860.7L574 860.7L590.7 876.2L590.7 880.2L574 895.7L570 895.7L553.2 880.2L553.2 876.2zM587.7 852.2L591.7 852.2L608.5 867.7L608.5 871.7L591.7 887.2L587.7 887.2L571 871.7L571 867.7zM606.4 843.7L610.4 843.7L627.1 859.2L627.1 863.2L610.4 878.7L606.4 878.7L589.6 863.2L589.6 859.2zM626.7 837.2L630.7 837.2L647.5 852.7L647.5 856.7L630.7 872.2L626.7 872.2L610 856.7L610 852.7zM647.7 830.4L651.7 830.4L668.5 845.9L668.5 849.9L651.7 865.4L647.7 865.4L631 849.9L631 845.9zM669.4 823.5L673.4 823.5L690.1 839L690.1 843L673.4 858.5L669.4 858.5L652.6 843L652.6 839zM692.4 817L696.4 817L713.1 832.5L713.1 836.5L696.4 852L692.4 852L675.6 836.5L675.6 832.5zM715.3 811.3L719.3 811.3L736 826.8L736 830.8L719.3 846.3L715.3 846.3L698.5 830.8L698.5 826.8zM738.6 806.3L742.6 806.3L759.4 821.8L759.4 825.8L742.6 841.3L738.6 841.3L721.9 825.8L721.9 821.8zM762.3 802.9L766.3 802.9L783 818.4L783 822.4L766.3 837.9L762.3 837.9L745.5 822.4L745.5 818.4zM786 800.6L790 800.6L806.8 816.1L806.8 820.1L790 835.6L786 835.6L769.2 820.1L769.2 816.1zM809.3 798.3L813.3 798.3L830 813.8L830 817.8L813.3 833.3L809.3 833.3L792.5 817.8L792.5 813.8zM833 797.1L837 797.1L853.8 812.6L853.8 816.6L837 832.1L833 832.1L816.2 816.6L816.2 812.6zM857 796.4L861 796.4L877.8 811.9L877.8 815.9L861 831.4L857 831.4L840.2 815.9L840.2 811.9zM880.7 797.1L884.7 797.1L901.5 812.6L901.5 816.6L884.7 832.1L880.7 832.1L864 816.6L864 812.6zM904.8 797.9L908.8 797.9L925.5 813.4L925.5 817.4L908.8 832.9L904.8 832.9L888 817.4L888 813.4zM928.5 799L932.5 799L949.2 814.5L949.2 818.5L932.5 834L928.5 834L911.8 818.5L911.8 814.5zM953.3 801L957.3 801L974 816.5L974 820.5L957.3 836L953.3 836L936.5 820.5L936.5 816.5z" fill="#00ffff"/>
<path d="M212.9 1186.8L243.4 1173.5L245.4 1173.5L245.4 1204.5L243.4 1204.5L212.9 1191.2zM213.2 1185.6L243.7 1172.3L245.7 1172.3L245.7 1203.3L243.7 1203.3L213.2 1190zM213.6 1184.5L244.1 1171.2L246.1 1171.2L246.1 1202.2L244.1 1202.2L213.6 1188.9zM214 1183.3L244.5 1170L246.5 1170L246.5 1201L244.5 1201L214 1187.7zM214.3 1182.2L244.8 1168.9L246.8 1168.9L246.8 1199.9L244.8 1199.9L214.3 1186.6zM214.7 1181.1L245.2 1167.8L247.2 1167.8L247.2 1198.8L245.2 1198.8L214.7 1185.5zM215.1 1179.9L245.6 1166.6L247.6 1166.6L247.6 1197.6L245.6 1197.6L215.1 1184.3zM215.6 1178.8L246.1 1165.5L248.1 1165.5L248.1 1196.5L246.1 1196.5L215.6 1183.2zM216 1177.7L246.5 1164.4L248.5 1164.4L248.5 1195.4L246.5 1195.4L216 1182.1zM216.4 1176.6L246.9 1163.3L248.9 1163.3L248.9 1194.3L246.9 1194.3L216.4 1181zM216.9 1175.5L247.4 1162.2L249.4 1162.2L249.4 1193.2L247.4 1193.2L216.9 1179.9zM217.3 1174.4L247.8 1161.1L249.8 1161.1L249.8 1192.1L247.8 1192.1L217.3 1178.8zM217.8 1173.3L248.3 1160L250.3 1160L250.3 1191L248.3 1191L217.8 1177.7zM218.3 1172.2L248.8 1158.9L250.8 1158.9L250.8 1189.9L248.8 1189.9L218.3 1176.6zM218.8 1171.2L249.3 1157.9L251.3 1157.9L251.3 1188.9L249.3 1188.9L218.8 1175.6zM219.4 1170.1L249.9 1156.8L251.9 1156.8L251.9 1187.8L249.9 1187.8L219.4 1174.5zM219.9 1169L250.4 1155.7L252.4 1155.7L252.4 1186.7L250.4 1186.7L219.9 1173.4zM220.5 1167.9L251 1154.6L253 1154.6L253 1185.6L251 1185.6L220.5 1172.3zM221.1 1166.9L251.6 1153.6L253.6 1153.6L253.6 1184.6L251.6 1184.6L221.1 1171.3zM221.7 1165.8L252.2 1152.5L254.2 1152.5L254.2 1183.5L252.2 1183.5L221.7 1170.2zM222.2 1164.8L252.7 1151.5L254.7 1151.5L254.7 1182.5L252.7 1182.5L222.2 1169.2zM222.8 1163.7L253.3 1150.4L255.3 1150.4L255.3 1181.4L253.3 1181.4L222.8 1168.1zM223.4 1162.7L253.9 1149.4L255.9 1149.4L255.9 1180.4L253.9 1180.4L223.4 1167.1zM224 1161.6L254.5 1148.3L256.5 1148.3L256.5 1179.3L254.5 1179.3L224 1166zM224.7 1160.6L255.2 1147.3L257.2 1147.3L257.2 1178.3L255.2 1178.3L224.7 1165zM225.3 1159.5L255.8 1146.2L257.8 1146.2L257.8 1177.2L255.8 1177.2L225.3 1163.9zM226 1158.3L256.5 1145L258.5 1145L258.5 1176L256.5 1176L226 1162.7zM226.7 1157.1L257.2 1143.8L259.2 1143.8L259.2 1174.8L257.2 1174.8L226.7 1161.5zM227.4 1155.9L257.9 1142.6L259.9 1142.6L259.9 1173.6L257.9 1173.6L227.4 1160.3zM228.2 1154.6L258.7 1141.3L260.7 1141.3L260.7 1172.3L258.7 1172.3L228.2 1159zM229 1153.2L259.5 1139.9L261.5 1139.9L261.5 1170.9L259.5 1170.9L229 1157.6zM229.8 1151.9L260.3 1138.6L262.3 1138.6L262.3 1169.6L260.3 1169.6L229.8 1156.3zM230.7 1150.4L261.2 1137.1L263.2 1137.1L263.2 1168.1L261.2 1168.1L230.7 1154.8zM231.6 1148.9L262.1 1135.6L264.1 1135.6L264.1 1166.6L262.1 1166.6L231.6 1153.3zM232.5 1147.4L263 1134.1L265 1134.1L265 1165.1L263 1165.1L232.5 1151.8zM233.5 1145.8L264 1132.5L266 1132.5L266 1163.5L264 1163.5L233.5 1150.2zM234.6 1144.1L265.1 1130.8L267.1 1130.8L267.1 1161.8L265.1 1161.8L234.6 1148.5zM235.7 1142.4L266.2 1129.1L268.2 1129.1L268.2 1160.1L266.2 1160.1L235.7 1146.8zM236.9 1140.7L267.4 1127.4L269.4 1127.4L269.4 1158.4L267.4 1158.4L236.9 1145.1zM238.1 1138.8L268.6 1125.5L270.6 1125.5L270.6 1156.5L268.6 1156.5L238.1 1143.2zM239.3 1136.9L269.8 1123.6L271.8 1123.6L271.8 1154.6L269.8 1154.6L239.3 1141.3zM240.6 1134.9L271.1 1121.6L273.1 1121.6L273.1 1152.6L271.1 1152.6L240.6 1139.3zM242 1132.9L272.5 1119.6L274.5 1119.6L274.5 1150.6L272.5 1150.6L242 1137.3zM243.5 1130.8L274 1117.5L276 1117.5L276 1148.5L274 1148.5L243.5 1135.2zM245 1128.6L275.5 1115.3L277.5 1115.3L277.5 1146.3L275.5 1146.3L245 1133zM246.6 1126.4L277.1 1113.1L279.1 1113.1L279.1 1144.1L277.1 1144.1L246.6 1130.8zM248.2 1124L278.7 1110.7L280.7 1110.7L280.7 1141.7L278.7 1141.7L248.2 1128.4zM250 1121.6L280.5 1108.3L282.5 1108.3L282.5 1139.3L280.5 1139.3L250 1126zM251.8 1119.1L282.3 1105.8L284.3 1105.8L284.3 1136.8L282.3 1136.8L251.8 1123.5zM253.7 1116.5L284.2 1103.2L286.2 1103.2L286.2 1134.2L284.2 1134.2L253.7 1120.9zM255.8 1113.9L286.3 1100.6L288.3 1100.6L288.3 1131.6L286.3 1131.6L255.8 1118.3zM257.9 1111.1L288.4 1097.8L290.4 1097.8L290.4 1128.8L288.4 1128.8L257.9 1115.5zM260.1 1108.3L290.6 1095L292.6 1095L292.6 1126L290.6 1126L260.1 1112.7zM262.4 1105.3L292.9 1092L294.9 1092L294.9 1123L292.9 1123L262.4 1109.7zM264.8 1102.2L295.3 1088.9L297.3 1088.9L297.3 1119.9L295.3 1119.9L264.8 1106.6zM267.3 1099L297.8 1085.7L299.8 1085.7L299.8 1116.7L297.8 1116.7L267.3 1103.4zM269.9 1095.7L300.4 1082.4L302.4 1082.4L302.4 1113.4L300.4 1113.4L269.9 1100.1zM272.5 1092.3L303 1079L305 1079L305 1110L303 1110L272.5 1096.7zM275.3 1088.6L305.8 1075.3L307.8 1075.3L307.8 1106.3L305.8 1106.3L275.3 1093zM278.2 1084.9L308.7 1071.6L310.7 1071.6L310.7 1102.6L308.7 1102.6L278.2 1089.3zM281.2 1081L311.7 1067.7L313.7 1067.7L313.7 1098.7L311.7 1098.7L281.2 1085.4zM284.4 1077L314.9 1063.7L316.9 1063.7L316.9 1094.7L314.9 1094.7L284.4 1081.4zM287.8 1073L318.3 1059.7L320.3 1059.7L320.3 1090.7L318.3 1090.7L287.8 1077.4zM291.4 1068.9L321.9 1055.6L323.9 1055.6L323.9 1086.6L321.9 1086.6L291.4 1073.3zM295.2 1064.7L325.7 1051.4L327.7 1051.4L327.7 1082.4L325.7 1082.4L295.2 1069.1zM299.4 1060.5L329.9 1047.2L331.9 1047.2L331.9 1078.2L329.9 1078.2L299.4 1064.9zM303.8 1056.1L334.3 1042.8L336.3 1042.8L336.3 1073.8L334.3 1073.8L303.8 1060.5zM308.4 1051.7L338.9 1038.4L340.9 1038.4L340.9 1069.4L338.9 1069.4L308.4 1056.1zM313.3 1047.2L343.8 1033.9L345.8 1033.9L345.8 1064.9L343.8 1064.9L313.3 1051.6zM318.5 1042.6L349 1029.3L351 1029.3L351 1060.3L349 1060.3L318.5 1047zM323.8 1037.8L354.3 1024.5L356.3 1024.5L356.3 1055.5L354.3 1055.5L323.8 1042.2zM329.5 1032.9L360 1019.6L362 1019.6L362 1050.6L360 1050.6L329.5 1037.3zM335.4 1028L365.9 1014.7L367.9 1014.7L367.9 1045.7L365.9 1045.7L335.4 1032.4zM341.7 1022.9L372.2 1009.6L374.2 1009.6L374.2 1040.6L372.2 1040.6L341.7 1027.3zM348.2 1017.6L378.7 1004.3L380.7 1004.3L380.7 1035.3L378.7 1035.3L348.2 1022zM354.9 1012.1L385.4 998.8L387.4 998.8L387.4 1029.8L385.4 1029.8L354.9 1016.5zM361.9 1006.3L392.4 993L394.4 993L394.4 1024L392.4 1024L361.9 1010.7zM369.2 1000.4L399.7 987.1L401.7 987.1L401.7 1018.1L399.7 1018.1L369.2 1004.8zM376.9 994.5L407.4 981.2L409.4 981.2L409.4 1012.2L407.4 1012.2L376.9 998.9zM385.2 988.6L415.7 975.3L417.7 975.3L417.7 1006.3L415.7 1006.3L385.2 993zM393.9 982.8L424.4 969.5L426.4 969.5L426.4 1000.5L424.4 1000.5L393.9 987.2zM403.2 977L433.7 963.7L435.7 963.7L435.7 994.7L433.7 994.7L403.2 981.4zM412.8 971L443.3 957.7L445.3 957.7L445.3 988.7L443.3 988.7L412.8 975.4zM423 965L453.5 951.7L455.5 951.7L455.5 982.7L453.5 982.7L423 969.4zM433.6 958.8L464.1 945.5L466.1 945.5L466.1 976.5L464.1 976.5L433.6 963.2zM444.6 952.4L475.1 939.1L477.1 939.1L477.1 970.1L475.1 970.1L444.6 956.8zM456.2 946L486.7 932.7L488.7 932.7L488.7 963.7L486.7 963.7L456.2 950.4zM468.8 940.5L499.3 927.2L501.3 927.2L501.3 958.2L499.3 958.2L468.8 944.9zM482.1 935.3L512.6 922L514.6 922L514.6 953L512.6 953L482.1 939.7zM496 929.9L526.5 916.6L528.5 916.6L528.5 947.6L526.5 947.6L496 934.3zM510.3 924L540.8 910.7L542.8 910.7L542.8 941.7L540.8 941.7L510.3 928.4zM525.4 918.7L555.9 905.4L557.9 905.4L557.9 936.4L555.9 936.4L525.4 923.1zM541.4 914.4L571.9 901.1L573.9 901.1L573.9 932.1L571.9 932.1L541.4 918.8zM558.2 909.9L588.7 896.6L590.7 896.6L590.7 927.6L588.7 927.6L558.2 914.3zM575.1 903.9L605.6 890.6L607.6 890.6L607.6 921.6L605.6 921.6L575.1 908.3zM593.5 900.7L624 887.4L626 887.4L626 918.4L624 918.4L593.5 905.1zM612.6 898.6L643.1 885.3L645.1 885.3L645.1 916.3L643.1 916.3L612.6 903zM629.8 896.7L660.3 883.4L662.3 883.4L662.3 914.4L660.3 914.4L629.8 901.1zM648.5 895L679 881.7L681 881.7L681 912.7L679 912.7L648.5 899.4zM666.8 894.8L697.3 881.5L699.3 881.5L699.3 912.5L697.3 912.5L666.8 899.2zM684.8 895.1L715.3 881.8L717.3 881.8L717.3 912.8L715.3 912.8L684.8 899.5zM702.4 894.8L732.9 881.5L734.9 881.5L734.9 912.5L732.9 912.5L702.4 899.2zM720.3 895.1L750.8 881.8L752.8 881.8L752.8 912.8L750.8 912.8L720.3 899.5zM738.3 897.2L768.8 883.9L770.8 883.9L770.8 914.9L768.8 914.9L738.3 901.6zM755.8 899.7L786.3 886.4L788.3 886.4L788.3 917.4L786.3 917.4L755.8 904.1zM773.8 902L804.3 888.7L806.3 888.7L806.3 919.7L804.3 919.7L773.8 906.4zM791 904.1L821.5 890.8L823.5 890.8L823.5 921.8L821.5 921.8L791 908.5zM808.9 907.2L839.4 893.9L841.4 893.9L841.4 924.9L839.4 924.9L808.9 911.6zM831.1 908.1L861.6 894.8L863.6 894.8L863.6 925.8L861.6 925.8L831.1 912.5z" fill="#ff00ff"/>
</g>
<rect x="214.3" y="49" width="5.6" height="1162.4" fill="#000"/>
<rect x="1775.5" y="49" width="5.1" height="1162.9" fill="#000"/>
<rect x="190" y="49" width="1590.5" height="3.3" fill="#000"/>
<rect x="190" y="1185.8" width="1590.5" height="3.3" fill="#000"/>
<rect x="190" y="901.4" width="27.1" height="3.8" fill="#000"/>
<rect x="190" y="617.1" width="27.1" height="3.8" fill="#000"/>
<rect x="190" y="332.9" width="27.1" height="3.8" fill="#000"/>
<rect x="203.5" y="1043.5" width="13.6" height="3.8" fill="#000"/>
<rect x="203.5" y="759.2" width="13.6" height="3.8" fill="#000"/>
<rect x="203.5" y="475" width="13.6" height="3.8" fill="#000"/>
<rect x="203.5" y="190.7" width="13.6" height="3.8" fill="#000"/>
<rect x="475" y="1187.4" width="5.2" height="23.5" fill="#000"/>
<rect x="735.1" y="1187.4" width="5.2" height="23.5" fill="#000"/>
<rect x="995.1" y="1187.4" width="5.2" height="23.5" fill="#000"/>
<rect x="1255.2" y="1187.4" width="5.2" height="23.5" fill="#000"/>
<rect x="1515.3" y="1187.4" width="5.2" height="23.5" fill="#000"/>
<rect x="344.9" y="1187.4" width="5.2" height="12" fill="#000"/>
<rect x="605" y="1187.4" width="5.2" height="12" fill="#000"/>
<rect x="865.1" y="1187.4" width="5.2" height="12" fill="#000"/>
<rect x="1125.2" y="1187.4" width="5.2" height="12" fill="#000"/>
<rect x="1385.3" y="1187.4" width="5.2" height="12" fill="#000"/>
<rect x="1645.3" y="1187.4" width="5.2" height="12" fill="#000"/>
<text transform="translate(174.2 1205.1) scale(1.058 1.000)" font-size="60.4" text-anchor="end">0</text>
<text transform="translate(174.2 920.9) scale(1.058 1.000)" font-size="60.4" text-anchor="end">1</text>
<text transform="translate(174.2 636.6) scale(1.058 1.000)" font-size="60.4" text-anchor="end">2</text>
<text transform="translate(174.2 352.4) scale(1.058 1.000)" font-size="60.4" text-anchor="end">3</text>
<text transform="translate(174.2 68.1) scale(1.058 1.000)" font-size="60.4" text-anchor="end">4</text>
<text transform="translate(217.5 1271.7) scale(1.058 1.000)" font-size="60.4" text-anchor="middle">0</text>
<text transform="translate(477.6 1271.7) scale(1.058 1.000)" font-size="60.4" text-anchor="middle">1</text>
<text transform="translate(737.7 1271.7) scale(1.058 1.000)" font-size="60.4" text-anchor="middle">2</text>
<text transform="translate(997.7 1271.7) scale(1.058 1.000)" font-size="60.4" text-anchor="middle">3</text>
<text transform="translate(1257.8 1271.7) scale(1.058 1.000)" font-size="60.4" text-anchor="middle">4</text>
<text transform="translate(1517.9 1271.7) scale(1.058 1.000)" font-size="60.4" text-anchor="middle">5</text>
<text transform="translate(1778 1271.7) scale(1.058 1.000)" font-size="60.4" text-anchor="middle">6</text>
<path d="M317.8 103.3h27.5v24.5h-27.5z" fill="#000000"/>
<path d="M317.8 182.5a15.2 13.7 0 1 0 30.4 0a15.2 13.7 0 1 0 -30.4 0z" fill="#ff0000"/>
<path d="M331.5 231.9L334.2 231.9L351.1 259.4L351.1 261.4L314.6 261.4L314.6 259.4z" fill="#00ff00"/>
<path d="M314.6 308.1L351.1 308.1L351.1 310.1L334.2 337.9L331.5 337.9L314.6 310.1z" fill="#0000ff"/>
<path d="M330.2 368.2L334.2 368.2L351 383.7L351 387.7L334.2 403.2L330.2 403.2L313.4 387.7L313.4 383.7z" fill="#00ffff"/>
<path d="M312.4 451.8L342.9 438.9L344.9 438.9L344.9 469.1L342.9 469.1L312.4 456.2z" fill="#ff00ff"/>
<text transform="translate(416 133.5) scale(1.062 1.000)" font-size="55">T = 288 K</text>
<text transform="translate(416 201.7) scale(1.062 1.000)" font-size="55">T = 291 K</text>
<text transform="translate(416 270.1) scale(1.062 1.000)" font-size="55">T = 294 K</text>
<text transform="translate(416 335.8) scale(1.062 1.000)" font-size="55">T = 296 K</text>
<text transform="translate(416 404.2) scale(1.062 1.000)" font-size="55">T = 300 K</text>
<text transform="translate(416 472) scale(1.062 1.000)" font-size="55">T = 302 K</text>
<rect x="1636.4" y="143" width="8" height="903" fill="#000"/>
<path d="M1629.5 1041.5L1651.3 1041.5L1642.6 1076L1638.2 1076z" fill="#000"/>
<text transform="translate(1689.6 676.1) scale(0.752 0.750)" font-size="100">T</text>
<text transform="translate(1654.4 1152.8) scale(0.791 0.710)" font-size="100">(a)</text>
<text transform="rotate(-90)"><tspan x="-787.7" y="90.9" font-size="82.26" textLength="28.46" lengthAdjust="spacingAndGlyphs">-</tspan><tspan> </tspan><tspan x="-746.8" y="88.5" font-size="82.27" textLength="44.91" lengthAdjust="spacingAndGlyphs">Z</tspan><tspan x="-703.4" y="116.5" font-size="49.22" textLength="97.94" lengthAdjust="spacingAndGlyphs">imag</tspan><tspan> </tspan><tspan x="-588.5" y="88.9" font-size="78.64" textLength="21.47" lengthAdjust="spacingAndGlyphs">(</tspan><tspan x="-566.1" y="88.5" font-size="78.11" textLength="36.64" lengthAdjust="spacingAndGlyphs">k</tspan><tspan x="-527.8" y="88.5" font-size="82.31" textLength="56.81" lengthAdjust="spacingAndGlyphs" style="font-family:'Liberation Serif', serif;font-weight:normal;">Ω</tspan><tspan x="-468.7" y="88.9" font-size="78.64" textLength="18.88" lengthAdjust="spacingAndGlyphs">)</tspan></text>
<text><tspan x="841.6" y="1387.9" font-size="74.27" textLength="52.32" lengthAdjust="spacingAndGlyphs">Z</tspan><tspan x="890.9" y="1412.0" font-size="40.71" textLength="82.65" lengthAdjust="spacingAndGlyphs">real</tspan><tspan> </tspan><tspan x="996.9" y="1386.7" font-size="71.02" textLength="22.30" lengthAdjust="spacingAndGlyphs">(</tspan><tspan x="1019.3" y="1387.9" font-size="70.52" textLength="43.83" lengthAdjust="spacingAndGlyphs">k</tspan><tspan x="1060.3" y="1387.9" font-size="72.34" textLength="64.13" lengthAdjust="spacingAndGlyphs" style="font-family:'Liberation Serif', serif;font-weight:normal;">Ω</tspan><tspan x="1126.2" y="1386.7" font-size="71.02" textLength="22.30" lengthAdjust="spacingAndGlyphs">)</tspan></text>
<path d="M261.2 2577.9H300.6M340 2577.9H383M422.4 2577.9H465.4M504.8 2577.9H547.8M587.2 2577.9H630.2M669.6 2577.9H712.6M752 2577.9H795M834.4 2577.9H877.4M916.8 2577.9H959.8M999.2 2577.9H1042.2M1081.6 2577.9H1124.6M1164 2577.9H1207M1246.4 2577.9H1289.4M1328.8 2577.9H1371.8M1411.2 2577.9H1454.2M1493.6 2577.9H1536.6M1576 2577.9H1619M1658.4 2577.9H1701.4M1740.8 2577.9H1743.7" stroke="#7f7f7f" stroke-width="8" fill="none"/>
<path d="M292.1 2547.2L294.9 2547.2L320.8 2591.4L320.8 2593.4L266.2 2593.4L266.2 2591.4z" fill="#0000ff"/>
<path d="M566.2 2410.6L569 2410.6L594.9 2456.5L594.9 2458.5L540.4 2458.5L540.4 2456.5z" fill="#0000ff"/>
<path d="M840.8 2342.4L843.6 2342.4L869.5 2386.9L869.5 2388.9L815 2388.9L815 2386.9z" fill="#0000ff"/>
<path d="M1024.4 2290.4L1027.2 2290.4L1053 2334.8L1053 2336.8L998.5 2336.8L998.5 2334.8z" fill="#0000ff"/>
<path d="M1390.1 1938.2L1392.9 1938.2L1418.8 1985.3L1418.8 1987.3L1364.2 1987.3L1364.2 1985.3z" fill="#0000ff"/>
<path d="M1664.6 1640.5L1667.4 1640.5L1693.2 1685L1693.2 1687L1638.8 1687L1638.8 1685z" fill="#0000ff"/>
<path d="M276.5 2573.9L300.6 2573.9L300.6 2581.9L271.8 2581.9z" fill="#00009c"/>
<rect x="258.5" y="1529.2" width="5.4" height="1189.6" fill="#000"/>
<rect x="1742.3" y="1529.2" width="2.8" height="1214.2" fill="#000"/>
<rect x="247.6" y="1529.2" width="1497.5" height="4.6" fill="#000"/>
<rect x="236" y="2716" width="1509.1" height="2.9" fill="#000"/>
<rect x="236" y="2576.1" width="25.2" height="3.6" fill="#000"/>
<rect x="236" y="2436.6" width="25.2" height="3.6" fill="#000"/>
<rect x="236" y="2297.1" width="25.2" height="3.6" fill="#000"/>
<rect x="236" y="2157.6" width="25.2" height="3.6" fill="#000"/>
<rect x="236" y="2018.1" width="25.2" height="3.6" fill="#000"/>
<rect x="236" y="1878.6" width="25.2" height="3.6" fill="#000"/>
<rect x="236" y="1739.1" width="25.2" height="3.6" fill="#000"/>
<rect x="236" y="1599.6" width="25.2" height="3.6" fill="#000"/>
<rect x="247.6" y="2645.8" width="13.6" height="3.6" fill="#000"/>
<rect x="247.6" y="2506.3" width="13.6" height="3.6" fill="#000"/>
<rect x="247.6" y="2366.8" width="13.6" height="3.6" fill="#000"/>
<rect x="247.6" y="2227.3" width="13.6" height="3.6" fill="#000"/>
<rect x="247.6" y="2087.8" width="13.6" height="3.6" fill="#000"/>
<rect x="247.6" y="1948.4" width="13.6" height="3.6" fill="#000"/>
<rect x="247.6" y="1808.9" width="13.6" height="3.6" fill="#000"/>
<rect x="247.6" y="1669.4" width="13.6" height="3.6" fill="#000"/>
<rect x="277.4" y="2717.4" width="4.6" height="26" fill="#000"/>
<rect x="643.4" y="2717.4" width="4.6" height="26" fill="#000"/>
<rect x="1009.4" y="2717.4" width="4.6" height="26" fill="#000"/>
<rect x="1375.4" y="2717.4" width="4.6" height="26" fill="#000"/>
<rect x="460.6" y="2717.4" width="4.2" height="12.5" fill="#000"/>
<rect x="826.6" y="2717.4" width="4.2" height="12.5" fill="#000"/>
<rect x="1192.6" y="2717.4" width="4.2" height="12.5" fill="#000"/>
<rect x="1558.6" y="2717.4" width="4.2" height="12.5" fill="#000"/>
<text transform="translate(222 2735.4) scale(0.995 1.000)" font-size="62" text-anchor="end">0.5</text>
<text transform="translate(222 2595.9) scale(0.995 1.000)" font-size="62" text-anchor="end">1.0</text>
<text transform="translate(222 2456.4) scale(0.995 1.000)" font-size="62" text-anchor="end">1.5</text>
<text transform="translate(222 2316.9) scale(0.995 1.000)" font-size="62" text-anchor="end">2.0</text>
<text transform="translate(222 2177.4) scale(0.995 1.000)" font-size="62" text-anchor="end">2.5</text>
<text transform="translate(222 2037.9) scale(0.995 1.000)" font-size="62" text-anchor="end">3.0</text>
<text transform="translate(222 1898.4) scale(0.995 1.000)" font-size="62" text-anchor="end">3.5</text>
<text transform="translate(222 1758.9) scale(0.995 1.000)" font-size="62" text-anchor="end">4.0</text>
<text transform="translate(222 1619.4) scale(0.995 1.000)" font-size="62" text-anchor="end">4.5</text>
<text transform="translate(279.7 2806) scale(0.993 1.000)" font-size="62" text-anchor="middle">288</text>
<text transform="translate(645.7 2806) scale(0.993 1.000)" font-size="62" text-anchor="middle">292</text>
<text transform="translate(1011.7 2806) scale(0.993 1.000)" font-size="62" text-anchor="middle">296</text>
<text transform="translate(1377.7 2806) scale(0.993 1.000)" font-size="62" text-anchor="middle">300</text>
<text transform="translate(1743.7 2806) scale(0.993 1.000)" font-size="62" text-anchor="middle">304</text>
<text transform="translate(1158.4 2546.3) scale(0.617 0.637)" font-size="100">Reference at 288 K</text>
<text transform="translate(1636.6 2672.4) scale(0.754 0.719)" font-size="100">(b)</text>
<text transform="translate(715.5 2921.4) scale(0.745 0.753)" font-size="100">Temperature (K)</text>
<text transform="rotate(-90)"><tspan x="-2333.6" y="85.4" font-size="76.84" textLength="50.70" lengthAdjust="spacingAndGlyphs">C</tspan><tspan x="-2281.0" y="113.2" font-size="46.47" textLength="71.18" lengthAdjust="spacingAndGlyphs">EIS</tspan><tspan x="-2208.8" y="84.8" font-size="70.77" textLength="19.79" lengthAdjust="spacingAndGlyphs">/</tspan><tspan x="-2186.2" y="85.4" font-size="76.84" textLength="48.71" lengthAdjust="spacingAndGlyphs">C</tspan><tspan x="-2134.2" y="46.8" font-size="42.20" textLength="15.56" lengthAdjust="spacingAndGlyphs">*</tspan><tspan x="-2133.4" y="113.2" font-size="46.47" textLength="22.10" lengthAdjust="spacingAndGlyphs">0</tspan><tspan> </tspan><tspan x="-2088.5" y="87.2" font-size="73.81" textLength="175.94" lengthAdjust="spacingAndGlyphs">(a.u.)</tspan></text>
<ellipse cx="292.3" cy="4125" rx="17.35" ry="17.1" fill="none" stroke="#ff0000" stroke-width="9.4"/>
<ellipse cx="567" cy="3868.8" rx="17.35" ry="17.1" fill="none" stroke="#ff0000" stroke-width="9.4"/>
<ellipse cx="841.6" cy="3644.4" rx="17.35" ry="17.1" fill="none" stroke="#ff0000" stroke-width="9.4"/>
<ellipse cx="1024.7" cy="3544.6" rx="17.35" ry="17.1" fill="none" stroke="#ff0000" stroke-width="9.4"/>
<ellipse cx="1390.9" cy="3367.6" rx="17.35" ry="17.1" fill="none" stroke="#ff0000" stroke-width="9.4"/>
<ellipse cx="1665.6" cy="3272" rx="17.35" ry="17.1" fill="none" stroke="#ff0000" stroke-width="9.4"/>
<rect x="258.5" y="3084" width="4.8" height="1158.5" fill="#000"/>
<rect x="1742.3" y="3084" width="2.8" height="1182.6" fill="#000"/>
<rect x="235.5" y="3084" width="1509.6" height="5.6" fill="#000"/>
<rect x="234" y="4239.5" width="1511.1" height="3" fill="#000"/>
<rect x="235.5" y="3950.6" width="25.9" height="3.6" fill="#000"/>
<rect x="235.5" y="3662.1" width="25.9" height="3.6" fill="#000"/>
<rect x="235.5" y="3373.5" width="25.9" height="3.6" fill="#000"/>
<rect x="247.3" y="4094.9" width="14.1" height="3.6" fill="#000"/>
<rect x="247.3" y="3806.4" width="14.1" height="3.6" fill="#000"/>
<rect x="247.3" y="3517.8" width="14.1" height="3.6" fill="#000"/>
<rect x="247.3" y="3229.3" width="14.1" height="3.6" fill="#000"/>
<rect x="276.6" y="4241" width="4" height="25.6" fill="#000"/>
<rect x="642.8" y="4241" width="4" height="25.6" fill="#000"/>
<rect x="1009" y="4241" width="4" height="25.6" fill="#000"/>
<rect x="1375.2" y="4241" width="4" height="25.6" fill="#000"/>
<rect x="459.7" y="4241" width="4" height="12.5" fill="#000"/>
<rect x="825.9" y="4241" width="4" height="12.5" fill="#000"/>
<rect x="1192.1" y="4241" width="4" height="12.5" fill="#000"/>
<rect x="1558.3" y="4241" width="4" height="12.5" fill="#000"/>
<text transform="translate(221.5 4258.4) scale(0.995 1.000)" font-size="62" text-anchor="end">0.4</text>
<text transform="translate(221.5 3969.8) scale(0.995 1.000)" font-size="62" text-anchor="end">0.5</text>
<text transform="translate(221.5 3681.3) scale(0.995 1.000)" font-size="62" text-anchor="end">0.6</text>
<text transform="translate(221.5 3392.8) scale(0.995 1.000)" font-size="62" text-anchor="end">0.7</text>
<text transform="translate(221.5 3104.2) scale(0.995 1.000)" font-size="62" text-anchor="end">0.8</text>
<text transform="translate(278.6 4326.4) scale(0.993 1.000)" font-size="62" text-anchor="middle">288</text>
<text transform="translate(644.8 4326.4) scale(0.993 1.000)" font-size="62" text-anchor="middle">292</text>
<text transform="translate(1011 4326.4) scale(0.993 1.000)" font-size="62" text-anchor="middle">296</text>
<text transform="translate(1377.2 4326.4) scale(0.993 1.000)" font-size="62" text-anchor="middle">300</text>
<text transform="translate(1743.4 4326.4) scale(0.993 1.000)" font-size="62" text-anchor="middle">304</text>
<text transform="translate(1621.5 4199.1) scale(0.765 0.737)" font-size="100">(c)</text>
<text transform="translate(713.4 4440.9) scale(0.747 0.783)" font-size="100">Temperature (K)</text>
<text transform="rotate(-90)"><tspan x="-3863.9" y="87.8" font-size="73.64" textLength="45.38" lengthAdjust="spacingAndGlyphs" style="font-family:'Liberation Serif', serif;font-weight:normal;">σ</tspan><tspan x="-3819.4" y="113.1" font-size="45.63" textLength="49.30" lengthAdjust="spacingAndGlyphs">ac</tspan><tspan> </tspan><tspan x="-3749.9" y="84.8" font-size="74.35" textLength="285.51" lengthAdjust="spacingAndGlyphs">(mS/cm)</tspan></text>
<pattern id="texA" width="129.6" height="129.6" patternUnits="userSpaceOnUse"><path d="M2.7 8.1h2.7v2.7h-2.7zM0 16.2h2.7v2.7h-2.7zM0 62.1h2.7v2.7h-2.7zM0 67.5h2.7v2.7h-2.7zM8.1 113.4h2.7v2.7h-2.7zM8.1 124.2h2.7v2.7h-2.7zM18.9 16.2h2.7v2.7h-2.7zM16.2 35.1h2.7v2.7h-2.7zM16.2 83.7h2.7v2.7h-2.7zM16.2 86.4h2.7v2.7h-2.7zM10.8 105.3h2.7v2.7h-2.7zM24.3 59.4h2.7v2.7h-2.7zM29.7 97.2h2.7v2.7h-2.7zM32.4 0h2.7v2.7h-2.7zM32.4 16.2h2.7v2.7h-2.7zM37.8 37.8h2.7v2.7h-2.7zM40.5 51.3h2.7v2.7h-2.7zM45.9 2.7h2.7v2.7h-2.7zM43.2 10.8h2.7v2.7h-2.7zM45.9 27h2.7v2.7h-2.7zM51.3 54h2.7v2.7h-2.7zM43.2 110.7h2.7v2.7h-2.7zM56.7 0h2.7v2.7h-2.7zM56.7 24.3h2.7v2.7h-2.7zM62.1 45.9h2.7v2.7h-2.7zM56.7 67.5h2.7v2.7h-2.7zM62.1 86.4h2.7v2.7h-2.7zM62.1 97.2h2.7v2.7h-2.7zM54 118.8h2.7v2.7h-2.7zM67.5 5.4h2.7v2.7h-2.7zM72.9 13.5h2.7v2.7h-2.7zM70.2 67.5h2.7v2.7h-2.7zM64.8 124.2h2.7v2.7h-2.7zM75.6 35.1h2.7v2.7h-2.7zM75.6 75.6h2.7v2.7h-2.7zM78.3 86.4h2.7v2.7h-2.7zM86.4 2.7h2.7v2.7h-2.7zM91.8 43.2h2.7v2.7h-2.7zM86.4 83.7h2.7v2.7h-2.7zM105.3 43.2h2.7v2.7h-2.7zM97.2 108h2.7v2.7h-2.7zM99.9 126.9h2.7v2.7h-2.7zM116.1 24.3h2.7v2.7h-2.7zM116.1 72.9h2.7v2.7h-2.7zM110.7 83.7h2.7v2.7h-2.7zM108 97.2h2.7v2.7h-2.7zM110.7 121.5h2.7v2.7h-2.7zM126.9 0h2.7v2.7h-2.7zM121.5 27h2.7v2.7h-2.7zM124.2 35.1h2.7v2.7h-2.7zM126.9 59.4h2.7v2.7h-2.7zM118.8 83.7h2.7v2.7h-2.7zM118.8 94.5h2.7v2.7h-2.7z" fill="#eefdfd"/><path d="M2.7 21.6h2.7v2.7h-2.7zM0 35.1h2.7v2.7h-2.7zM2.7 91.8h2.7v2.7h-2.7zM13.5 2.7h2.7v2.7h-2.7zM18.9 62.1h2.7v2.7h-2.7zM16.2 72.9h2.7v2.7h-2.7zM21.6 110.7h2.7v2.7h-2.7zM29.7 121.5h2.7v2.7h-2.7zM32.4 56.7h2.7v2.7h-2.7zM32.4 91.8h2.7v2.7h-2.7zM48.6 37.8h2.7v2.7h-2.7zM48.6 64.8h2.7v2.7h-2.7zM59.4 108h2.7v2.7h-2.7zM67.5 51.3h2.7v2.7h-2.7zM72.9 78.3h2.7v2.7h-2.7zM70.2 113.4h2.7v2.7h-2.7zM81 10.8h2.7v2.7h-2.7zM78.3 21.6h2.7v2.7h-2.7zM83.7 59.4h2.7v2.7h-2.7zM78.3 72.9h2.7v2.7h-2.7zM126.9 48.6h2.7v2.7h-2.7zM121.5 97.2h2.7v2.7h-2.7z" fill="#f8e4d3"/><path d="M0 43.2h2.7v2.7h-2.7zM0 97.2h2.7v2.7h-2.7zM16.2 110.7h2.7v2.7h-2.7zM24.3 35.1h2.7v2.7h-2.7zM35.1 113.4h2.7v2.7h-2.7zM45.9 51.3h2.7v2.7h-2.7zM72.9 89.1h2.7v2.7h-2.7zM91.8 27h2.7v2.7h-2.7zM89.1 72.9h2.7v2.7h-2.7zM94.5 91.8h2.7v2.7h-2.7zM105.3 27h2.7v2.7h-2.7zM102.6 59.4h2.7v2.7h-2.7zM105.3 102.6h2.7v2.7h-2.7zM113.4 5.4h2.7v2.7h-2.7zM110.7 43.2h2.7v2.7h-2.7zM108 113.4h2.7v2.7h-2.7zM124.2 10.8h2.7v2.7h-2.7zM126.9 64.8h2.7v2.7h-2.7z" fill="#f6d9f0"/><path d="M0 81h2.7v2.7h-2.7zM18.9 118.8h2.7v2.7h-2.7zM29.7 24.3h2.7v2.7h-2.7zM27 81h2.7v2.7h-2.7zM35.1 29.7h2.7v2.7h-2.7zM37.8 72.9h2.7v2.7h-2.7zM35.1 81h2.7v2.7h-2.7zM37.8 102.6h2.7v2.7h-2.7zM45.9 83.7h2.7v2.7h-2.7zM43.2 99.9h2.7v2.7h-2.7zM56.7 75.6h2.7v2.7h-2.7zM67.5 29.7h2.7v2.7h-2.7zM70.2 54h2.7v2.7h-2.7zM83.7 113.4h2.7v2.7h-2.7zM91.8 99.9h2.7v2.7h-2.7zM91.8 108h2.7v2.7h-2.7zM102.6 8.1h2.7v2.7h-2.7zM97.2 40.5h2.7v2.7h-2.7zM99.9 81h2.7v2.7h-2.7zM124.2 113.4h2.7v2.7h-2.7z" fill="#f1fefe"/><path d="M10.8 21.6h2.7v2.7h-2.7zM27 2.7h2.7v2.7h-2.7zM21.6 94.5h2.7v2.7h-2.7zM35.1 121.5h2.7v2.7h-2.7zM48.6 86.4h2.7v2.7h-2.7zM54 13.5h2.7v2.7h-2.7zM59.4 62.1h2.7v2.7h-2.7zM83.7 48.6h2.7v2.7h-2.7zM110.7 32.4h2.7v2.7h-2.7z" fill="#f2f2d8"/><path d="M10.8 48.6h2.7v2.7h-2.7zM27 18.9h2.7v2.7h-2.7zM45.9 126.9h2.7v2.7h-2.7zM59.4 35.1h2.7v2.7h-2.7zM72.9 40.5h2.7v2.7h-2.7zM72.9 105.3h2.7v2.7h-2.7zM75.6 8.1h2.7v2.7h-2.7zM83.7 97.2h2.7v2.7h-2.7zM89.1 37.8h2.7v2.7h-2.7zM110.7 18.9h2.7v2.7h-2.7zM108 56.7h2.7v2.7h-2.7zM124.2 118.8h2.7v2.7h-2.7z" fill="#f9e8da"/></pattern>
<pattern id="texB" width="8.2" height="11" patternUnits="userSpaceOnUse"><rect x="0.4" y="1" width="2.7" height="2.7" fill="#f6ecec"/><rect x="4.6" y="6.4" width="2.7" height="2.7" fill="#effefe"/></pattern>
<g style="mix-blend-mode:multiply">
<rect x="13" y="27" width="1778" height="1398.5" fill="url(#texA)"/>
<rect x="13" y="1545" width="1778" height="1398.5" fill="url(#texB)"/>
<rect x="13" y="3061" width="1778" height="1399" fill="url(#texB)"/>
</g>
</svg>
</body></html>
